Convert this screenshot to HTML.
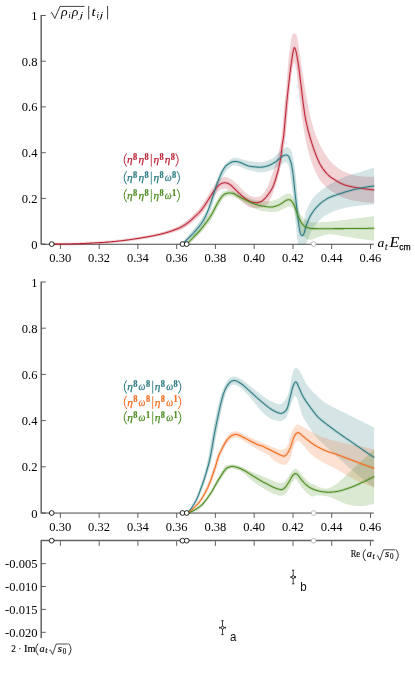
<!DOCTYPE html>
<html><head><meta charset="utf-8"><title>plot</title>
<style>
html,body{margin:0;padding:0;background:#fff;}
body{width:415px;height:673px;overflow:hidden;font-family:"Liberation Serif",serif;}
svg{display:block;will-change:transform;}
text{font-family:"Liberation Serif",serif;}
.tk{font-size:12.5px;fill:#000;}
.sans{font-family:"Liberation Sans",sans-serif;}
.it{font-style:italic}
.b{font-weight:bold}
</style></head><body>
<svg width="415" height="673" viewBox="0 0 415 673">
<rect width="415" height="673" fill="#fff"/>
<clipPath id="c1"><rect x="41" y="0" width="333.4" height="244.6"/></clipPath>
<g clip-path="url(#c1)">
<path d="M51.7 243.5 L52.2 243.5 L52.7 243.5 L53.2 243.5 L53.7 243.5 L54.2 243.5 L54.7 243.5 L55.2 243.5 L55.7 243.5 L56.2 243.5 L56.7 243.5 L57.2 243.5 L57.7 243.5 L58.2 243.5 L58.7 243.5 L59.2 243.4 L59.7 243.4 L60.2 243.4 L60.7 243.4 L61.2 243.4 L61.7 243.4 L62.2 243.4 L62.7 243.4 L63.2 243.4 L63.7 243.4 L64.2 243.4 L64.7 243.3 L65.2 243.3 L65.7 243.3 L66.2 243.3 L66.7 243.3 L67.2 243.3 L67.7 243.3 L68.2 243.3 L68.7 243.2 L69.2 243.2 L69.7 243.2 L70.2 243.2 L70.7 243.2 L71.2 243.2 L71.7 243.2 L72.2 243.1 L72.7 243.1 L73.2 243.1 L73.7 243.1 L74.2 243.1 L74.7 243.0 L75.2 243.0 L75.7 243.0 L76.2 243.0 L76.7 243.0 L77.2 243.0 L77.7 242.9 L78.2 242.9 L78.7 242.9 L79.2 242.9 L79.7 242.9 L80.2 242.8 L80.7 242.8 L81.2 242.8 L81.7 242.8 L82.2 242.8 L82.7 242.7 L83.2 242.7 L83.7 242.7 L84.2 242.7 L84.7 242.6 L85.2 242.6 L85.7 242.6 L86.2 242.6 L86.7 242.6 L87.2 242.5 L87.7 242.5 L88.2 242.5 L88.7 242.5 L89.2 242.4 L89.7 242.4 L90.2 242.4 L90.7 242.4 L91.2 242.3 L91.7 242.3 L92.2 242.3 L92.7 242.3 L93.2 242.2 L93.7 242.2 L94.2 242.2 L94.7 242.2 L95.2 242.1 L95.7 242.1 L96.2 242.1 L96.7 242.1 L97.2 242.0 L97.7 242.0 L98.2 242.0 L98.7 242.0 L99.2 241.9 L99.7 241.9 L100.2 241.9 L100.7 241.9 L101.2 241.8 L101.7 241.8 L102.2 241.8 L102.7 241.7 L103.2 241.7 L103.7 241.7 L104.2 241.6 L104.7 241.6 L105.2 241.6 L105.7 241.5 L106.2 241.5 L106.7 241.4 L107.2 241.4 L107.7 241.3 L108.2 241.3 L108.7 241.3 L109.2 241.2 L109.7 241.2 L110.2 241.1 L110.7 241.1 L111.2 241.0 L111.7 241.0 L112.2 240.9 L112.7 240.8 L113.2 240.8 L113.7 240.7 L114.2 240.7 L114.7 240.6 L115.2 240.6 L115.7 240.5 L116.2 240.5 L116.7 240.4 L117.2 240.3 L117.7 240.3 L118.2 240.2 L118.7 240.2 L119.2 240.1 L119.7 240.0 L120.2 240.0 L120.7 239.9 L121.2 239.9 L121.7 239.8 L122.2 239.7 L122.7 239.7 L123.2 239.6 L123.7 239.5 L124.2 239.5 L124.7 239.4 L125.2 239.4 L125.7 239.3 L126.2 239.2 L126.7 239.2 L127.2 239.1 L127.7 239.0 L128.2 238.9 L128.7 238.9 L129.2 238.8 L129.7 238.7 L130.2 238.6 L130.7 238.6 L131.2 238.5 L131.7 238.4 L132.2 238.3 L132.7 238.2 L133.2 238.2 L133.7 238.1 L134.2 238.0 L134.7 237.9 L135.2 237.8 L135.7 237.7 L136.2 237.7 L136.7 237.6 L137.2 237.5 L137.7 237.4 L138.2 237.3 L138.7 237.2 L139.2 237.1 L139.7 237.1 L140.2 237.0 L140.7 236.9 L141.2 236.8 L141.7 236.7 L142.2 236.6 L142.7 236.5 L143.2 236.4 L143.7 236.3 L144.2 236.3 L144.7 236.2 L145.2 236.1 L145.7 236.0 L146.2 235.9 L146.7 235.8 L147.2 235.7 L147.7 235.6 L148.2 235.5 L148.7 235.4 L149.2 235.3 L149.7 235.2 L150.2 235.1 L150.7 235.0 L151.2 234.9 L151.7 234.8 L152.2 234.7 L152.7 234.6 L153.2 234.5 L153.7 234.4 L154.2 234.3 L154.7 234.2 L155.2 234.0 L155.7 233.9 L156.2 233.8 L156.7 233.7 L157.2 233.6 L157.7 233.5 L158.2 233.3 L158.7 233.2 L159.2 233.1 L159.7 232.9 L160.2 232.8 L160.7 232.7 L161.2 232.5 L161.7 232.4 L162.2 232.3 L162.7 232.1 L163.2 232.0 L163.7 231.8 L164.2 231.7 L164.7 231.5 L165.2 231.4 L165.7 231.2 L166.2 231.1 L166.7 230.9 L167.2 230.8 L167.7 230.6 L168.2 230.4 L168.7 230.3 L169.2 230.1 L169.7 229.9 L170.2 229.7 L170.7 229.5 L171.2 229.3 L171.7 229.1 L172.2 228.9 L172.7 228.7 L173.2 228.5 L173.7 228.3 L174.2 228.0 L174.7 227.8 L175.2 227.6 L175.7 227.4 L176.2 227.1 L176.7 226.9 L177.2 226.7 L177.7 226.4 L178.2 226.2 L178.7 225.9 L179.2 225.7 L179.7 225.4 L180.2 225.1 L180.7 224.8 L181.2 224.6 L181.7 224.3 L182.2 224.0 L182.7 223.7 L183.2 223.4 L183.7 223.0 L184.2 222.7 L184.7 222.3 L185.2 222.0 L185.7 221.6 L186.2 221.2 L186.7 220.8 L187.2 220.4 L187.7 220.0 L188.2 219.6 L188.7 219.2 L189.2 218.7 L189.7 218.3 L190.2 217.9 L190.7 217.4 L191.2 216.9 L191.7 216.4 L192.2 215.9 L192.7 215.4 L193.2 214.8 L193.7 214.3 L194.2 213.8 L194.7 213.3 L195.2 212.8 L195.7 212.4 L196.2 211.9 L196.7 211.5 L197.2 211.0 L197.7 210.5 L198.2 210.0 L198.7 209.4 L199.2 208.7 L199.7 208.0 L200.2 207.3 L200.7 206.6 L201.2 205.9 L201.7 205.2 L202.2 204.5 L202.7 203.7 L203.2 203.0 L203.7 202.2 L204.2 201.5 L204.7 200.7 L205.2 199.9 L205.7 199.1 L206.2 198.4 L206.7 197.6 L207.2 196.8 L207.7 196.0 L208.2 195.1 L208.7 194.3 L209.2 193.4 L209.7 192.5 L210.2 191.7 L210.7 190.8 L211.2 190.0 L211.7 189.2 L212.2 188.4 L212.7 187.6 L213.2 186.9 L213.7 186.1 L214.2 185.4 L214.7 184.7 L215.2 184.0 L215.7 183.3 L216.2 182.6 L216.7 182.0 L217.2 181.4 L217.7 180.9 L218.2 180.4 L218.7 179.9 L219.2 179.5 L219.7 179.2 L220.2 178.8 L220.7 178.5 L221.2 178.2 L221.7 177.9 L222.2 177.6 L222.7 177.4 L223.2 177.2 L223.7 177.1 L224.2 177.0 L224.7 177.0 L225.2 177.0 L225.7 177.1 L226.2 177.2 L226.7 177.3 L227.2 177.5 L227.7 177.6 L228.2 177.8 L228.7 178.0 L229.2 178.3 L229.7 178.5 L230.2 178.8 L230.7 179.0 L231.2 179.3 L231.7 179.7 L232.2 180.0 L232.7 180.4 L233.2 180.8 L233.7 181.2 L234.2 181.6 L234.7 182.0 L235.2 182.4 L235.7 182.9 L236.2 183.3 L236.7 183.8 L237.2 184.2 L237.7 184.7 L238.2 185.1 L238.7 185.7 L239.2 186.2 L239.7 186.7 L240.2 187.3 L240.7 187.8 L241.2 188.4 L241.7 189.0 L242.2 189.5 L242.7 190.0 L243.2 190.6 L243.7 191.0 L244.2 191.5 L244.7 192.0 L245.2 192.4 L245.7 192.8 L246.2 193.1 L246.7 193.5 L247.2 193.9 L247.7 194.2 L248.2 194.6 L248.7 194.9 L249.2 195.2 L249.7 195.4 L250.2 195.7 L250.7 195.9 L251.2 196.1 L251.7 196.2 L252.2 196.4 L252.7 196.5 L253.2 196.7 L253.7 196.8 L254.2 196.9 L254.7 197.0 L255.2 197.1 L255.7 197.2 L256.2 197.2 L256.7 197.2 L257.2 197.1 L257.7 197.0 L258.2 196.9 L258.7 196.8 L259.2 196.6 L259.7 196.4 L260.2 196.2 L260.7 196.0 L261.2 195.6 L261.7 195.2 L262.2 194.7 L262.7 194.2 L263.2 193.6 L263.7 193.1 L264.2 192.4 L264.7 191.7 L265.2 190.8 L265.7 189.9 L266.2 189.0 L266.7 188.0 L267.2 187.0 L267.7 185.9 L268.2 184.8 L268.7 183.6 L269.2 182.4 L269.7 181.1 L270.2 179.7 L270.7 178.4 L271.2 177.0 L271.7 175.6 L272.2 174.1 L272.7 172.7 L273.2 171.2 L273.7 169.7 L274.2 168.1 L274.7 166.5 L275.2 164.8 L275.7 163.1 L276.2 161.3 L276.7 159.6 L277.2 157.7 L277.7 155.9 L278.2 153.9 L278.7 151.8 L279.2 149.6 L279.7 147.3 L280.2 145.0 L280.7 142.5 L281.2 139.5 L281.7 135.5 L282.2 130.5 L282.7 124.8 L283.2 118.8 L283.7 112.8 L284.2 107.1 L284.7 102.1 L285.2 97.8 L285.7 93.7 L286.2 89.2 L286.7 83.8 L287.2 76.1 L287.7 67.9 L288.2 61.7 L288.7 57.3 L289.2 53.5 L289.7 49.9 L290.2 46.3 L290.7 42.2 L291.2 38.7 L291.7 36.7 L292.2 35.2 L292.7 34.3 L293.2 33.9 L293.7 33.5 L294.2 33.2 L294.7 33.3 L295.2 33.5 L295.7 33.9 L296.2 34.4 L296.7 35.5 L297.2 37.0 L297.7 39.2 L298.2 42.6 L298.7 46.3 L299.2 49.7 L299.7 53.1 L300.2 56.6 L300.7 60.0 L301.2 63.4 L301.7 66.8 L302.2 70.1 L302.7 73.5 L303.2 76.8 L303.7 80.1 L304.2 83.3 L304.7 86.4 L305.2 89.5 L305.7 92.5 L306.2 95.3 L306.7 98.1 L307.2 100.8 L307.7 103.5 L308.2 106.2 L308.7 108.8 L309.2 111.3 L309.7 113.7 L310.2 116.0 L310.7 118.1 L311.2 120.1 L311.7 121.9 L312.2 123.8 L312.7 125.6 L313.2 127.3 L313.7 128.9 L314.2 130.5 L314.7 132.0 L315.2 133.5 L315.7 134.8 L316.2 136.1 L316.7 137.3 L317.2 138.5 L317.7 139.7 L318.2 140.8 L318.7 142.0 L319.2 143.1 L319.7 144.2 L320.2 145.2 L320.7 146.3 L321.2 147.3 L321.7 148.2 L322.2 149.2 L322.7 150.1 L323.2 150.9 L323.7 151.7 L324.2 152.5 L324.7 153.2 L325.2 154.0 L325.7 154.7 L326.2 155.4 L326.7 156.2 L327.2 156.9 L327.7 157.6 L328.2 158.3 L328.7 159.0 L329.2 159.6 L329.7 160.3 L330.2 160.9 L330.7 161.5 L331.2 162.0 L331.7 162.6 L332.2 163.1 L332.7 163.6 L333.2 164.1 L333.7 164.5 L334.2 164.9 L334.7 165.3 L335.2 165.7 L335.7 166.1 L336.2 166.5 L336.7 166.9 L337.2 167.3 L337.7 167.7 L338.2 168.1 L338.7 168.4 L339.2 168.8 L339.7 169.2 L340.2 169.5 L340.7 169.8 L341.2 170.1 L341.7 170.4 L342.2 170.7 L342.7 171.0 L343.2 171.3 L343.7 171.5 L344.2 171.7 L344.7 171.9 L345.2 172.1 L345.7 172.3 L346.2 172.5 L346.7 172.7 L347.2 172.9 L347.7 173.1 L348.2 173.2 L348.7 173.4 L349.2 173.6 L349.7 173.8 L350.2 173.9 L350.7 174.1 L351.2 174.3 L351.7 174.4 L352.2 174.6 L352.7 174.7 L353.2 174.9 L353.7 175.0 L354.2 175.2 L354.7 175.3 L355.2 175.4 L355.7 175.5 L356.2 175.6 L356.7 175.7 L357.2 175.8 L357.7 175.9 L358.2 176.0 L358.7 176.0 L359.2 176.1 L359.7 176.1 L360.2 176.2 L360.7 176.2 L361.2 176.3 L361.7 176.3 L362.2 176.4 L362.7 176.4 L363.2 176.5 L363.7 176.5 L364.2 176.5 L364.7 176.6 L365.2 176.6 L365.7 176.6 L366.2 176.7 L366.7 176.7 L367.2 176.7 L367.7 176.7 L368.2 176.8 L368.7 176.8 L369.2 176.8 L369.7 176.8 L370.2 176.8 L370.7 176.8 L371.2 176.8 L371.7 176.8 L372.2 176.8 L372.7 176.8 L373.2 176.8 L373.7 176.7 L374.2 176.7 L374.3 176.7 L374.3 203.0 L374.2 203.0 L373.7 203.0 L373.2 203.0 L372.7 203.0 L372.2 202.9 L371.7 202.9 L371.2 202.9 L370.7 202.8 L370.2 202.8 L369.7 202.8 L369.2 202.7 L368.7 202.7 L368.2 202.6 L367.7 202.6 L367.2 202.5 L366.7 202.5 L366.2 202.4 L365.7 202.4 L365.2 202.3 L364.7 202.3 L364.2 202.2 L363.7 202.1 L363.2 202.1 L362.7 202.0 L362.2 202.0 L361.7 201.9 L361.2 201.8 L360.7 201.8 L360.2 201.7 L359.7 201.6 L359.2 201.6 L358.7 201.5 L358.2 201.4 L357.7 201.4 L357.2 201.3 L356.7 201.2 L356.2 201.1 L355.7 201.0 L355.2 200.9 L354.7 200.8 L354.2 200.7 L353.7 200.6 L353.2 200.5 L352.7 200.4 L352.2 200.3 L351.7 200.2 L351.2 200.0 L350.7 199.9 L350.2 199.8 L349.7 199.6 L349.2 199.5 L348.7 199.4 L348.2 199.2 L347.7 199.1 L347.2 198.9 L346.7 198.8 L346.2 198.6 L345.7 198.5 L345.2 198.3 L344.7 198.2 L344.2 198.0 L343.7 197.8 L343.2 197.6 L342.7 197.4 L342.2 197.2 L341.7 197.0 L341.2 196.7 L340.7 196.5 L340.2 196.2 L339.7 196.0 L339.2 195.7 L338.7 195.4 L338.2 195.2 L337.7 194.9 L337.2 194.6 L336.7 194.3 L336.2 194.0 L335.7 193.7 L335.2 193.4 L334.7 193.1 L334.2 192.8 L333.7 192.6 L333.2 192.3 L332.7 192.0 L332.2 191.6 L331.7 191.3 L331.2 191.0 L330.7 190.6 L330.2 190.2 L329.7 189.9 L329.2 189.5 L328.7 189.1 L328.2 188.7 L327.7 188.3 L327.2 187.8 L326.7 187.4 L326.2 186.9 L325.7 186.5 L325.2 186.0 L324.7 185.6 L324.2 185.1 L323.7 184.6 L323.2 184.1 L322.7 183.6 L322.2 183.1 L321.7 182.6 L321.2 182.0 L320.7 181.3 L320.2 180.6 L319.7 179.9 L319.2 179.1 L318.7 178.2 L318.2 177.3 L317.7 176.4 L317.2 175.4 L316.7 174.4 L316.2 173.4 L315.7 172.3 L315.2 171.3 L314.7 170.2 L314.2 169.2 L313.7 168.1 L313.2 166.8 L312.7 165.5 L312.2 164.1 L311.7 162.7 L311.2 161.1 L310.7 159.5 L310.2 157.9 L309.7 156.2 L309.2 154.4 L308.7 152.6 L308.2 150.8 L307.7 148.9 L307.2 147.0 L306.7 145.0 L306.2 142.7 L305.7 140.3 L305.2 137.8 L304.7 135.1 L304.2 132.3 L303.7 129.3 L303.2 126.3 L302.7 123.1 L302.2 119.7 L301.7 115.9 L301.2 111.8 L300.7 107.6 L300.2 103.3 L299.7 99.2 L299.2 95.1 L298.7 90.9 L298.2 86.7 L297.7 82.4 L297.2 77.6 L296.7 73.1 L296.2 69.2 L295.7 66.4 L295.2 64.3 L294.7 62.9 L294.2 62.7 L293.7 63.5 L293.2 65.1 L292.7 67.2 L292.2 69.4 L291.7 72.1 L291.2 75.4 L290.7 79.1 L290.2 83.3 L289.7 88.0 L289.2 93.8 L288.7 100.2 L288.2 106.1 L287.7 112.0 L287.2 118.0 L286.7 123.9 L286.2 129.5 L285.7 134.5 L285.2 138.8 L284.7 142.0 L284.2 145.0 L283.7 148.4 L283.2 151.9 L282.7 155.2 L282.2 158.1 L281.7 160.9 L281.2 163.6 L280.7 166.1 L280.2 168.5 L279.7 170.7 L279.2 172.7 L278.7 174.6 L278.2 176.4 L277.7 178.2 L277.2 180.0 L276.7 181.6 L276.2 183.2 L275.7 184.8 L275.2 186.3 L274.7 187.8 L274.2 189.3 L273.7 190.8 L273.2 192.2 L272.7 193.7 L272.2 195.0 L271.7 196.3 L271.2 197.5 L270.7 198.6 L270.2 199.6 L269.7 200.5 L269.2 201.4 L268.7 202.3 L268.2 203.1 L267.7 203.8 L267.2 204.4 L266.7 204.9 L266.2 205.2 L265.7 205.5 L265.2 205.9 L264.7 206.2 L264.2 206.4 L263.7 206.7 L263.2 206.9 L262.7 207.1 L262.2 207.3 L261.7 207.4 L261.2 207.5 L260.7 207.6 L260.2 207.7 L259.7 207.8 L259.2 207.9 L258.7 208.0 L258.2 208.1 L257.7 208.2 L257.2 208.2 L256.7 208.3 L256.2 208.3 L255.7 208.3 L255.2 208.3 L254.7 208.2 L254.2 208.2 L253.7 208.1 L253.2 208.0 L252.7 208.0 L252.2 207.9 L251.7 207.8 L251.2 207.6 L250.7 207.5 L250.2 207.4 L249.7 207.2 L249.2 207.0 L248.7 206.7 L248.2 206.5 L247.7 206.2 L247.2 205.9 L246.7 205.6 L246.2 205.2 L245.7 204.9 L245.2 204.5 L244.7 204.2 L244.2 203.8 L243.7 203.4 L243.2 202.9 L242.7 202.4 L242.2 201.9 L241.7 201.4 L241.2 200.9 L240.7 200.4 L240.2 199.8 L239.7 199.3 L239.2 198.8 L238.7 198.3 L238.2 197.8 L237.7 197.3 L237.2 196.8 L236.7 196.3 L236.2 195.9 L235.7 195.4 L235.2 194.9 L234.7 194.5 L234.2 194.0 L233.7 193.5 L233.2 193.1 L232.7 192.7 L232.2 192.2 L231.7 191.8 L231.2 191.5 L230.7 191.1 L230.2 190.8 L229.7 190.5 L229.2 190.2 L228.7 189.9 L228.2 189.7 L227.7 189.5 L227.2 189.2 L226.7 189.1 L226.2 188.9 L225.7 188.8 L225.2 188.7 L224.7 188.6 L224.2 188.6 L223.7 188.6 L223.2 188.7 L222.7 188.9 L222.2 189.1 L221.7 189.3 L221.2 189.5 L220.7 189.8 L220.2 190.1 L219.7 190.4 L219.2 190.7 L218.7 191.1 L218.2 191.5 L217.7 191.9 L217.2 192.4 L216.7 193.0 L216.2 193.6 L215.7 194.2 L215.2 194.8 L214.7 195.5 L214.2 196.1 L213.7 196.8 L213.2 197.5 L212.7 198.1 L212.2 198.8 L211.7 199.6 L211.2 200.3 L210.7 201.1 L210.2 201.8 L209.7 202.6 L209.2 203.4 L208.7 204.2 L208.2 204.9 L207.7 205.7 L207.2 206.4 L206.7 207.1 L206.2 207.8 L205.7 208.5 L205.2 209.3 L204.7 210.0 L204.2 210.7 L203.7 211.3 L203.2 212.0 L202.7 212.6 L202.2 213.3 L201.7 213.8 L201.2 214.4 L200.7 214.9 L200.2 215.4 L199.7 215.8 L199.2 216.2 L198.7 216.6 L198.2 217.0 L197.7 217.5 L197.2 217.9 L196.7 218.3 L196.2 218.8 L195.7 219.2 L195.2 219.6 L194.7 220.1 L194.2 220.5 L193.7 220.9 L193.2 221.4 L192.7 221.8 L192.2 222.3 L191.7 222.7 L191.2 223.1 L190.7 223.5 L190.2 223.9 L189.7 224.3 L189.2 224.7 L188.7 225.0 L188.2 225.4 L187.7 225.7 L187.2 226.1 L186.7 226.4 L186.2 226.7 L185.7 227.0 L185.2 227.4 L184.7 227.7 L184.2 227.9 L183.7 228.2 L183.2 228.5 L182.7 228.7 L182.2 228.9 L181.7 229.2 L181.2 229.4 L180.7 229.6 L180.2 229.8 L179.7 230.0 L179.2 230.2 L178.7 230.4 L178.2 230.6 L177.7 230.8 L177.2 230.9 L176.7 231.1 L176.2 231.3 L175.7 231.4 L175.2 231.6 L174.7 231.8 L174.2 231.9 L173.7 232.1 L173.2 232.2 L172.7 232.4 L172.2 232.5 L171.7 232.7 L171.2 232.8 L170.7 233.0 L170.2 233.1 L169.7 233.3 L169.2 233.4 L168.7 233.5 L168.2 233.6 L167.7 233.8 L167.2 233.9 L166.7 234.0 L166.2 234.2 L165.7 234.3 L165.2 234.4 L164.7 234.5 L164.2 234.7 L163.7 234.8 L163.2 234.9 L162.7 235.0 L162.2 235.1 L161.7 235.3 L161.2 235.4 L160.7 235.5 L160.2 235.6 L159.7 235.7 L159.2 235.8 L158.7 235.9 L158.2 236.0 L157.7 236.2 L157.2 236.3 L156.7 236.4 L156.2 236.5 L155.7 236.6 L155.2 236.7 L154.7 236.8 L154.2 236.9 L153.7 236.9 L153.2 237.0 L152.7 237.1 L152.2 237.2 L151.7 237.3 L151.2 237.4 L150.7 237.5 L150.2 237.6 L149.7 237.7 L149.2 237.8 L148.7 237.8 L148.2 237.9 L147.7 238.0 L147.2 238.1 L146.7 238.2 L146.2 238.3 L145.7 238.3 L145.2 238.4 L144.7 238.5 L144.2 238.6 L143.7 238.6 L143.2 238.7 L142.7 238.8 L142.2 238.9 L141.7 239.0 L141.2 239.0 L140.7 239.1 L140.2 239.2 L139.7 239.2 L139.2 239.3 L138.7 239.4 L138.2 239.5 L137.7 239.5 L137.2 239.6 L136.7 239.7 L136.2 239.8 L135.7 239.8 L135.2 239.9 L134.7 240.0 L134.2 240.0 L133.7 240.1 L133.2 240.2 L132.7 240.2 L132.2 240.3 L131.7 240.4 L131.2 240.5 L130.7 240.5 L130.2 240.6 L129.7 240.6 L129.2 240.7 L128.7 240.8 L128.2 240.8 L127.7 240.9 L127.2 241.0 L126.7 241.0 L126.2 241.1 L125.7 241.1 L125.2 241.2 L124.7 241.2 L124.2 241.3 L123.7 241.3 L123.2 241.4 L122.7 241.4 L122.2 241.5 L121.7 241.5 L121.2 241.6 L120.7 241.6 L120.2 241.7 L119.7 241.7 L119.2 241.8 L118.7 241.8 L118.2 241.9 L117.7 241.9 L117.2 242.0 L116.7 242.0 L116.2 242.1 L115.7 242.1 L115.2 242.2 L114.7 242.2 L114.2 242.3 L113.7 242.3 L113.2 242.4 L112.7 242.4 L112.2 242.5 L111.7 242.5 L111.2 242.5 L110.7 242.6 L110.2 242.6 L109.7 242.7 L109.2 242.7 L108.7 242.8 L108.2 242.8 L107.7 242.8 L107.2 242.9 L106.7 242.9 L106.2 242.9 L105.7 243.0 L105.2 243.0 L104.7 243.0 L104.2 243.1 L103.7 243.1 L103.2 243.1 L102.7 243.2 L102.2 243.2 L101.7 243.2 L101.2 243.2 L100.7 243.3 L100.2 243.3 L99.7 243.3 L99.2 243.3 L98.7 243.4 L98.2 243.4 L97.7 243.4 L97.2 243.4 L96.7 243.4 L96.2 243.5 L95.7 243.5 L95.2 243.5 L94.7 243.5 L94.2 243.5 L93.7 243.6 L93.2 243.6 L92.7 243.6 L92.2 243.6 L91.7 243.7 L91.2 243.7 L90.7 243.7 L90.2 243.7 L89.7 243.7 L89.2 243.8 L88.7 243.8 L88.2 243.8 L87.7 243.8 L87.2 243.8 L86.7 243.9 L86.2 243.9 L85.7 243.9 L85.2 243.9 L84.7 243.9 L84.2 244.0 L83.7 244.0 L83.2 244.0 L82.7 244.0 L82.2 244.0 L81.7 244.0 L81.2 244.1 L80.7 244.1 L80.2 244.1 L79.7 244.1 L79.2 244.1 L78.7 244.2 L78.2 244.2 L77.7 244.2 L77.2 244.2 L76.7 244.2 L76.2 244.2 L75.7 244.3 L75.2 244.3 L74.7 244.3 L74.2 244.3 L73.7 244.3 L73.2 244.3 L72.7 244.3 L72.2 244.4 L71.7 244.4 L71.2 244.4 L70.7 244.4 L70.2 244.4 L69.7 244.4 L69.2 244.4 L68.7 244.5 L68.2 244.5 L67.7 244.5 L67.2 244.5 L66.7 244.5 L66.2 244.5 L65.7 244.5 L65.2 244.5 L64.7 244.6 L64.2 244.6 L63.7 244.6 L63.2 244.6 L62.7 244.6 L62.2 244.6 L61.7 244.6 L61.2 244.6 L60.7 244.6 L60.2 244.6 L59.7 244.6 L59.2 244.6 L58.7 244.7 L58.2 244.7 L57.7 244.7 L57.2 244.7 L56.7 244.7 L56.2 244.7 L55.7 244.7 L55.2 244.7 L54.7 244.7 L54.2 244.7 L53.7 244.7 L53.2 244.7 L52.7 244.7 L52.2 244.7 L51.7 244.7Z" fill="#bd2638" fill-opacity="0.2" stroke="none"/>
<path d="M182.4 243.4 L182.9 242.7 L183.4 242.0 L183.9 241.3 L184.4 240.7 L184.9 240.0 L185.4 239.3 L185.9 238.6 L186.4 238.0 L186.9 237.3 L187.4 236.7 L187.9 236.0 L188.4 235.4 L188.9 234.7 L189.4 234.1 L189.9 233.5 L190.4 232.9 L190.9 232.3 L191.4 231.7 L191.9 231.1 L192.4 230.5 L192.9 230.0 L193.4 229.4 L193.9 228.8 L194.4 228.2 L194.9 227.6 L195.4 227.0 L195.9 226.4 L196.4 225.8 L196.9 225.2 L197.4 224.5 L197.9 223.8 L198.4 223.2 L198.9 222.5 L199.4 221.8 L199.9 221.1 L200.4 220.4 L200.9 219.6 L201.4 218.9 L201.9 218.1 L202.4 217.3 L202.9 216.6 L203.4 215.8 L203.9 214.9 L204.4 214.1 L204.9 213.3 L205.4 212.4 L205.9 211.5 L206.4 210.5 L206.9 209.5 L207.4 208.4 L207.9 207.4 L208.4 206.2 L208.9 205.1 L209.4 203.9 L209.9 202.7 L210.4 201.4 L210.9 200.1 L211.4 198.7 L211.9 197.1 L212.4 195.5 L212.9 193.7 L213.4 191.9 L213.9 190.2 L214.4 188.4 L214.9 186.8 L215.4 185.2 L215.9 183.7 L216.4 182.1 L216.9 180.6 L217.4 179.1 L217.9 177.6 L218.4 176.2 L218.9 174.9 L219.4 173.8 L219.9 172.8 L220.4 171.8 L220.9 170.9 L221.4 170.0 L221.9 169.2 L222.4 168.4 L222.9 167.6 L223.4 166.9 L223.9 166.3 L224.4 165.6 L224.9 164.9 L225.4 164.3 L225.9 163.6 L226.4 162.9 L226.9 162.3 L227.4 161.7 L227.9 161.2 L228.4 160.7 L228.9 160.3 L229.4 159.9 L229.9 159.6 L230.4 159.3 L230.9 159.0 L231.4 158.7 L231.9 158.4 L232.4 158.2 L232.9 158.0 L233.4 157.8 L233.9 157.7 L234.4 157.7 L234.9 157.7 L235.4 157.8 L235.9 157.8 L236.4 157.9 L236.9 158.0 L237.4 158.1 L237.9 158.2 L238.4 158.3 L238.9 158.5 L239.4 158.6 L239.9 158.7 L240.4 158.8 L240.9 159.0 L241.4 159.1 L241.9 159.2 L242.4 159.4 L242.9 159.5 L243.4 159.7 L243.9 159.8 L244.4 159.9 L244.9 160.0 L245.4 160.2 L245.9 160.3 L246.4 160.4 L246.9 160.5 L247.4 160.6 L247.9 160.7 L248.4 160.8 L248.9 160.9 L249.4 161.0 L249.9 161.1 L250.4 161.2 L250.9 161.2 L251.4 161.3 L251.9 161.4 L252.4 161.5 L252.9 161.6 L253.4 161.6 L253.9 161.7 L254.4 161.8 L254.9 161.8 L255.4 161.9 L255.9 162.0 L256.4 162.0 L256.9 162.1 L257.4 162.1 L257.9 162.2 L258.4 162.2 L258.9 162.2 L259.4 162.3 L259.9 162.3 L260.4 162.3 L260.9 162.3 L261.4 162.3 L261.9 162.2 L262.4 162.2 L262.9 162.1 L263.4 162.0 L263.9 161.9 L264.4 161.8 L264.9 161.6 L265.4 161.5 L265.9 161.3 L266.4 161.1 L266.9 160.9 L267.4 160.7 L267.9 160.5 L268.4 160.3 L268.9 160.1 L269.4 159.9 L269.9 159.6 L270.4 159.4 L270.9 159.1 L271.4 158.9 L271.9 158.6 L272.4 158.3 L272.9 158.0 L273.4 157.7 L273.9 157.3 L274.4 156.8 L274.9 156.4 L275.4 155.9 L275.9 155.5 L276.4 155.0 L276.9 154.5 L277.4 154.0 L277.9 153.5 L278.4 153.0 L278.9 152.5 L279.4 152.0 L279.9 151.6 L280.4 151.2 L280.9 150.7 L281.4 150.3 L281.9 150.0 L282.4 149.6 L282.9 149.2 L283.4 148.9 L283.9 148.5 L284.4 148.2 L284.9 147.9 L285.4 147.6 L285.9 147.3 L286.4 147.0 L286.9 146.9 L287.4 146.9 L287.9 147.1 L288.4 147.4 L288.9 147.8 L289.4 148.2 L289.9 148.8 L290.4 149.3 L290.9 149.9 L291.4 150.7 L291.9 152.2 L292.4 154.2 L292.9 156.6 L293.4 159.0 L293.9 161.6 L294.4 164.7 L294.9 168.3 L295.4 172.4 L295.9 176.9 L296.4 182.5 L296.9 188.5 L297.4 194.0 L297.9 198.8 L298.4 203.4 L298.9 207.7 L299.4 211.4 L299.9 214.5 L300.4 217.0 L300.9 219.4 L301.4 221.6 L301.9 223.3 L302.4 224.2 L302.9 224.2 L303.4 223.0 L303.9 221.1 L304.4 218.8 L304.9 216.4 L305.4 214.1 L305.9 212.3 L306.4 210.9 L306.9 209.6 L307.4 208.4 L307.9 207.2 L308.4 206.1 L308.9 205.1 L309.4 204.1 L309.9 203.2 L310.4 202.3 L310.9 201.5 L311.4 200.6 L311.9 199.8 L312.4 199.0 L312.9 198.2 L313.4 197.5 L313.9 196.9 L314.4 196.3 L314.9 195.8 L315.4 195.3 L315.9 194.8 L316.4 194.3 L316.9 193.9 L317.4 193.4 L317.9 193.0 L318.4 192.6 L318.9 192.2 L319.4 191.8 L319.9 191.4 L320.4 191.0 L320.9 190.6 L321.4 190.2 L321.9 189.9 L322.4 189.5 L322.9 189.1 L323.4 188.8 L323.9 188.4 L324.4 188.1 L324.9 187.7 L325.4 187.3 L325.9 187.0 L326.4 186.7 L326.9 186.3 L327.4 186.0 L327.9 185.7 L328.4 185.3 L328.9 185.0 L329.4 184.7 L329.9 184.4 L330.4 184.1 L330.9 183.8 L331.4 183.5 L331.9 183.2 L332.4 182.9 L332.9 182.6 L333.4 182.4 L333.9 182.1 L334.4 181.8 L334.9 181.5 L335.4 181.2 L335.9 181.0 L336.4 180.7 L336.9 180.5 L337.4 180.2 L337.9 180.0 L338.4 179.7 L338.9 179.5 L339.4 179.3 L339.9 179.0 L340.4 178.8 L340.9 178.6 L341.4 178.4 L341.9 178.1 L342.4 177.9 L342.9 177.7 L343.4 177.5 L343.9 177.3 L344.4 177.1 L344.9 176.9 L345.4 176.7 L345.9 176.5 L346.4 176.3 L346.9 176.1 L347.4 175.9 L347.9 175.7 L348.4 175.6 L348.9 175.4 L349.4 175.2 L349.9 175.0 L350.4 174.9 L350.9 174.7 L351.4 174.5 L351.9 174.4 L352.4 174.2 L352.9 174.1 L353.4 173.9 L353.9 173.8 L354.4 173.6 L354.9 173.5 L355.4 173.3 L355.9 173.2 L356.4 173.1 L356.9 172.9 L357.4 172.8 L357.9 172.6 L358.4 172.5 L358.9 172.3 L359.4 172.2 L359.9 172.0 L360.4 171.9 L360.9 171.7 L361.4 171.6 L361.9 171.4 L362.4 171.3 L362.9 171.1 L363.4 171.0 L363.9 170.8 L364.4 170.7 L364.9 170.5 L365.4 170.4 L365.9 170.2 L366.4 170.1 L366.9 169.9 L367.4 169.8 L367.9 169.6 L368.4 169.5 L368.9 169.3 L369.4 169.2 L369.9 169.0 L370.4 168.9 L370.9 168.7 L371.4 168.6 L371.9 168.4 L372.4 168.3 L372.9 168.1 L373.4 168.0 L373.9 167.8 L374.3 167.7 L374.3 204.6 L373.9 204.6 L373.4 204.6 L372.9 204.6 L372.4 204.6 L371.9 204.7 L371.4 204.7 L370.9 204.7 L370.4 204.7 L369.9 204.8 L369.4 204.8 L368.9 204.8 L368.4 204.8 L367.9 204.9 L367.4 204.9 L366.9 205.0 L366.4 205.0 L365.9 205.0 L365.4 205.1 L364.9 205.1 L364.4 205.2 L363.9 205.2 L363.4 205.3 L362.9 205.3 L362.4 205.4 L361.9 205.4 L361.4 205.5 L360.9 205.5 L360.4 205.6 L359.9 205.6 L359.4 205.7 L358.9 205.7 L358.4 205.8 L357.9 205.9 L357.4 205.9 L356.9 206.0 L356.4 206.0 L355.9 206.1 L355.4 206.1 L354.9 206.2 L354.4 206.3 L353.9 206.3 L353.4 206.4 L352.9 206.4 L352.4 206.5 L351.9 206.6 L351.4 206.6 L350.9 206.7 L350.4 206.8 L349.9 206.9 L349.4 207.0 L348.9 207.0 L348.4 207.1 L347.9 207.2 L347.4 207.4 L346.9 207.5 L346.4 207.6 L345.9 207.7 L345.4 207.8 L344.9 207.9 L344.4 208.1 L343.9 208.2 L343.4 208.3 L342.9 208.4 L342.4 208.6 L341.9 208.7 L341.4 208.8 L340.9 209.0 L340.4 209.1 L339.9 209.2 L339.4 209.4 L338.9 209.5 L338.4 209.6 L337.9 209.8 L337.4 209.9 L336.9 210.1 L336.4 210.3 L335.9 210.5 L335.4 210.6 L334.9 210.8 L334.4 211.0 L333.9 211.2 L333.4 211.5 L332.9 211.7 L332.4 211.9 L331.9 212.1 L331.4 212.4 L330.9 212.6 L330.4 212.9 L329.9 213.1 L329.4 213.4 L328.9 213.6 L328.4 213.9 L327.9 214.1 L327.4 214.4 L326.9 214.7 L326.4 215.0 L325.9 215.2 L325.4 215.5 L324.9 215.8 L324.4 216.1 L323.9 216.5 L323.4 216.8 L322.9 217.2 L322.4 217.6 L321.9 218.1 L321.4 218.5 L320.9 219.0 L320.4 219.5 L319.9 220.0 L319.4 220.5 L318.9 221.1 L318.4 221.6 L317.9 222.1 L317.4 222.7 L316.9 223.3 L316.4 223.8 L315.9 224.4 L315.4 225.0 L314.9 225.6 L314.4 226.3 L313.9 227.0 L313.4 227.8 L312.9 228.6 L312.4 229.5 L311.9 230.3 L311.4 231.3 L310.9 232.2 L310.4 233.2 L309.9 234.2 L309.4 235.4 L308.9 236.8 L308.4 238.2 L307.9 239.5 L307.4 240.7 L306.9 241.8 L306.4 242.7 L305.9 243.6 L305.4 244.4 L304.9 245.0 L304.4 245.5 L303.9 246.0 L303.4 246.3 L302.9 246.5 L302.4 246.7 L301.9 246.7 L301.4 246.7 L300.9 246.5 L300.4 246.3 L299.9 246.0 L299.4 245.6 L298.9 245.1 L298.4 244.6 L297.9 243.0 L297.4 239.5 L296.9 235.6 L296.4 231.1 L295.9 226.1 L295.4 221.0 L294.9 215.4 L294.4 209.6 L293.9 204.0 L293.4 199.1 L292.9 194.6 L292.4 190.3 L291.9 186.4 L291.4 182.7 L290.9 179.3 L290.4 175.9 L289.9 172.6 L289.4 169.6 L288.9 167.2 L288.4 165.8 L287.9 164.7 L287.4 163.7 L286.9 162.9 L286.4 162.3 L285.9 162.0 L285.4 162.0 L284.9 162.3 L284.4 162.6 L283.9 162.8 L283.4 163.2 L282.9 163.5 L282.4 163.8 L281.9 164.1 L281.4 164.4 L280.9 164.7 L280.4 165.0 L279.9 165.3 L279.4 165.6 L278.9 165.9 L278.4 166.2 L277.9 166.6 L277.4 166.9 L276.9 167.2 L276.4 167.5 L275.9 167.8 L275.4 168.1 L274.9 168.4 L274.4 168.7 L273.9 169.0 L273.4 169.2 L272.9 169.5 L272.4 169.7 L271.9 169.9 L271.4 170.1 L270.9 170.2 L270.4 170.4 L269.9 170.6 L269.4 170.7 L268.9 170.9 L268.4 171.1 L267.9 171.2 L267.4 171.3 L266.9 171.5 L266.4 171.6 L265.9 171.7 L265.4 171.8 L264.9 171.9 L264.4 172.0 L263.9 172.1 L263.4 172.2 L262.9 172.2 L262.4 172.3 L261.9 172.3 L261.4 172.3 L260.9 172.3 L260.4 172.3 L259.9 172.3 L259.4 172.3 L258.9 172.2 L258.4 172.2 L257.9 172.1 L257.4 172.0 L256.9 171.9 L256.4 171.9 L255.9 171.8 L255.4 171.7 L254.9 171.6 L254.4 171.5 L253.9 171.4 L253.4 171.2 L252.9 171.1 L252.4 171.0 L251.9 170.9 L251.4 170.8 L250.9 170.6 L250.4 170.5 L249.9 170.4 L249.4 170.3 L248.9 170.1 L248.4 170.0 L247.9 169.9 L247.4 169.7 L246.9 169.6 L246.4 169.4 L245.9 169.2 L245.4 169.0 L244.9 168.8 L244.4 168.6 L243.9 168.4 L243.4 168.2 L242.9 168.0 L242.4 167.8 L241.9 167.6 L241.4 167.3 L240.9 167.1 L240.4 166.9 L239.9 166.7 L239.4 166.5 L238.9 166.3 L238.4 166.1 L237.9 166.0 L237.4 165.8 L236.9 165.7 L236.4 165.5 L235.9 165.4 L235.4 165.3 L234.9 165.2 L234.4 165.2 L233.9 165.2 L233.4 165.4 L232.9 165.6 L232.4 165.8 L231.9 166.1 L231.4 166.5 L230.9 166.8 L230.4 167.2 L229.9 167.6 L229.4 167.9 L228.9 168.3 L228.4 168.8 L227.9 169.3 L227.4 169.8 L226.9 170.5 L226.4 171.1 L225.9 171.8 L225.4 172.6 L224.9 173.3 L224.4 174.0 L223.9 174.8 L223.4 175.6 L222.9 176.4 L222.4 177.3 L221.9 178.3 L221.4 179.3 L220.9 180.4 L220.4 181.5 L219.9 182.7 L219.4 183.9 L218.9 185.1 L218.4 186.5 L217.9 188.0 L217.4 189.5 L216.9 191.1 L216.4 192.6 L215.9 194.2 L215.4 195.7 L214.9 197.3 L214.4 198.9 L213.9 200.6 L213.4 202.2 L212.9 203.9 L212.4 205.5 L211.9 207.1 L211.4 208.6 L210.9 209.9 L210.4 211.1 L209.9 212.3 L209.4 213.4 L208.9 214.5 L208.4 215.6 L207.9 216.6 L207.4 217.6 L206.9 218.6 L206.4 219.5 L205.9 220.4 L205.4 221.3 L204.9 222.1 L204.4 222.9 L203.9 223.7 L203.4 224.4 L202.9 225.2 L202.4 225.9 L201.9 226.7 L201.4 227.4 L200.9 228.1 L200.4 228.8 L199.9 229.5 L199.4 230.1 L198.9 230.8 L198.4 231.4 L197.9 232.0 L197.4 232.6 L196.9 233.1 L196.4 233.7 L195.9 234.2 L195.4 234.7 L194.9 235.2 L194.4 235.7 L193.9 236.3 L193.4 236.7 L192.9 237.2 L192.4 237.7 L191.9 238.2 L191.4 238.6 L190.9 239.0 L190.4 239.5 L189.9 239.9 L189.4 240.3 L188.9 240.6 L188.4 241.0 L187.9 241.4 L187.4 241.7 L186.9 242.1 L186.4 242.5 L185.9 242.8 L185.4 243.1 L184.9 243.5 L184.4 243.8 L183.9 244.1 L183.4 244.3 L182.9 244.6 L182.4 244.8Z" fill="#2b7b82" fill-opacity="0.2" stroke="none"/>
<path d="M186.8 243.4 L187.3 242.7 L187.8 242.0 L188.3 241.4 L188.8 240.7 L189.3 240.0 L189.8 239.4 L190.3 238.7 L190.8 238.1 L191.3 237.4 L191.8 236.8 L192.3 236.2 L192.8 235.6 L193.3 235.0 L193.8 234.4 L194.3 233.8 L194.8 233.2 L195.3 232.7 L195.8 232.2 L196.3 231.6 L196.8 231.1 L197.3 230.6 L197.8 230.0 L198.3 229.4 L198.8 228.8 L199.3 228.2 L199.8 227.6 L200.3 226.9 L200.8 226.3 L201.3 225.6 L201.8 224.9 L202.3 224.2 L202.8 223.5 L203.3 222.8 L203.8 222.1 L204.3 221.4 L204.8 220.7 L205.3 220.0 L205.8 219.3 L206.3 218.6 L206.8 217.8 L207.3 217.1 L207.8 216.3 L208.3 215.5 L208.8 214.7 L209.3 213.9 L209.8 213.0 L210.3 212.2 L210.8 211.3 L211.3 210.4 L211.8 209.5 L212.3 208.6 L212.8 207.7 L213.3 206.8 L213.8 206.0 L214.3 205.1 L214.8 204.2 L215.3 203.2 L215.8 202.3 L216.3 201.4 L216.8 200.4 L217.3 199.6 L217.8 198.7 L218.3 197.9 L218.8 197.1 L219.3 196.4 L219.8 195.7 L220.3 195.0 L220.8 194.4 L221.3 193.8 L221.8 193.2 L222.3 192.7 L222.8 192.2 L223.3 191.8 L223.8 191.5 L224.3 191.3 L224.8 191.1 L225.3 190.9 L225.8 190.7 L226.3 190.5 L226.8 190.4 L227.3 190.3 L227.8 190.2 L228.3 190.1 L228.8 190.1 L229.3 190.1 L229.8 190.2 L230.3 190.3 L230.8 190.4 L231.3 190.6 L231.8 190.7 L232.3 190.9 L232.8 191.1 L233.3 191.3 L233.8 191.5 L234.3 191.7 L234.8 191.9 L235.3 192.1 L235.8 192.3 L236.3 192.5 L236.8 192.7 L237.3 192.9 L237.8 193.1 L238.3 193.3 L238.8 193.5 L239.3 193.8 L239.8 194.0 L240.3 194.2 L240.8 194.4 L241.3 194.6 L241.8 194.9 L242.3 195.1 L242.8 195.3 L243.3 195.6 L243.8 195.8 L244.3 196.0 L244.8 196.2 L245.3 196.4 L245.8 196.6 L246.3 196.8 L246.8 197.0 L247.3 197.2 L247.8 197.4 L248.3 197.7 L248.8 197.9 L249.3 198.1 L249.8 198.3 L250.3 198.4 L250.8 198.6 L251.3 198.8 L251.8 199.0 L252.3 199.2 L252.8 199.3 L253.3 199.5 L253.8 199.6 L254.3 199.8 L254.8 199.9 L255.3 200.0 L255.8 200.1 L256.3 200.3 L256.8 200.4 L257.3 200.5 L257.8 200.6 L258.3 200.7 L258.8 200.7 L259.3 200.8 L259.8 200.9 L260.3 200.9 L260.8 201.0 L261.3 201.0 L261.8 201.1 L262.3 201.1 L262.8 201.2 L263.3 201.2 L263.8 201.2 L264.3 201.3 L264.8 201.3 L265.3 201.3 L265.8 201.3 L266.3 201.3 L266.8 201.3 L267.3 201.3 L267.8 201.3 L268.3 201.3 L268.8 201.2 L269.3 201.2 L269.8 201.1 L270.3 201.1 L270.8 201.0 L271.3 200.9 L271.8 200.8 L272.3 200.7 L272.8 200.5 L273.3 200.4 L273.8 200.2 L274.3 200.1 L274.8 199.9 L275.3 199.8 L275.8 199.6 L276.3 199.4 L276.8 199.3 L277.3 199.1 L277.8 198.9 L278.3 198.7 L278.8 198.4 L279.3 198.1 L279.8 197.8 L280.3 197.4 L280.8 197.1 L281.3 196.7 L281.8 196.4 L282.3 196.0 L282.8 195.7 L283.3 195.4 L283.8 195.1 L284.3 194.9 L284.8 194.6 L285.3 194.4 L285.8 194.2 L286.3 194.1 L286.8 193.9 L287.3 193.8 L287.8 193.7 L288.3 193.6 L288.8 193.5 L289.3 193.5 L289.8 193.6 L290.3 193.9 L290.8 194.3 L291.3 194.8 L291.8 195.4 L292.3 196.0 L292.8 196.7 L293.3 197.5 L293.8 198.7 L294.3 200.0 L294.8 201.6 L295.3 203.1 L295.8 204.5 L296.3 205.7 L296.8 207.0 L297.3 208.3 L297.8 209.5 L298.3 210.7 L298.8 211.9 L299.3 212.9 L299.8 213.7 L300.3 214.4 L300.8 215.1 L301.3 215.7 L301.8 216.3 L302.3 216.9 L302.8 217.5 L303.3 218.0 L303.8 218.5 L304.3 218.9 L304.8 219.3 L305.3 219.6 L305.8 219.9 L306.3 220.1 L306.8 220.4 L307.3 220.7 L307.8 220.9 L308.3 221.2 L308.8 221.4 L309.3 221.6 L309.8 221.8 L310.3 222.0 L310.8 222.1 L311.3 222.2 L311.8 222.3 L312.3 222.3 L312.8 222.3 L313.3 222.3 L313.8 222.3 L314.3 222.3 L314.8 222.3 L315.3 222.3 L315.8 222.3 L316.3 222.3 L316.8 222.3 L317.3 222.3 L317.8 222.3 L318.3 222.3 L318.8 222.3 L319.3 222.3 L319.8 222.3 L320.3 222.3 L320.8 222.2 L321.3 222.2 L321.8 222.2 L322.3 222.2 L322.8 222.2 L323.3 222.1 L323.8 222.1 L324.3 222.1 L324.8 222.1 L325.3 222.0 L325.8 222.0 L326.3 222.0 L326.8 221.9 L327.3 221.9 L327.8 221.8 L328.3 221.8 L328.8 221.8 L329.3 221.7 L329.8 221.6 L330.3 221.6 L330.8 221.5 L331.3 221.5 L331.8 221.4 L332.3 221.4 L332.8 221.3 L333.3 221.3 L333.8 221.2 L334.3 221.2 L334.8 221.1 L335.3 221.0 L335.8 221.0 L336.3 220.9 L336.8 220.9 L337.3 220.8 L337.8 220.7 L338.3 220.7 L338.8 220.6 L339.3 220.6 L339.8 220.5 L340.3 220.4 L340.8 220.4 L341.3 220.3 L341.8 220.2 L342.3 220.2 L342.8 220.1 L343.3 220.1 L343.8 220.0 L344.3 219.9 L344.8 219.9 L345.3 219.8 L345.8 219.7 L346.3 219.7 L346.8 219.6 L347.3 219.6 L347.8 219.5 L348.3 219.4 L348.8 219.4 L349.3 219.3 L349.8 219.3 L350.3 219.2 L350.8 219.1 L351.3 219.1 L351.8 219.0 L352.3 218.9 L352.8 218.9 L353.3 218.8 L353.8 218.8 L354.3 218.7 L354.8 218.6 L355.3 218.6 L355.8 218.5 L356.3 218.4 L356.8 218.4 L357.3 218.3 L357.8 218.2 L358.3 218.2 L358.8 218.1 L359.3 218.1 L359.8 218.0 L360.3 217.9 L360.8 217.9 L361.3 217.8 L361.8 217.7 L362.3 217.7 L362.8 217.6 L363.3 217.5 L363.8 217.5 L364.3 217.4 L364.8 217.3 L365.3 217.3 L365.8 217.2 L366.3 217.2 L366.8 217.1 L367.3 217.0 L367.8 217.0 L368.3 216.9 L368.8 216.8 L369.3 216.8 L369.8 216.7 L370.3 216.6 L370.8 216.6 L371.3 216.5 L371.8 216.4 L372.3 216.4 L372.8 216.3 L373.3 216.2 L373.8 216.2 L374.3 216.1 L374.3 240.8 L373.8 240.7 L373.3 240.7 L372.8 240.6 L372.3 240.5 L371.8 240.5 L371.3 240.4 L370.8 240.3 L370.3 240.3 L369.8 240.2 L369.3 240.1 L368.8 240.1 L368.3 240.0 L367.8 239.9 L367.3 239.8 L366.8 239.8 L366.3 239.7 L365.8 239.6 L365.3 239.6 L364.8 239.5 L364.3 239.4 L363.8 239.3 L363.3 239.3 L362.8 239.2 L362.3 239.1 L361.8 239.1 L361.3 239.0 L360.8 238.9 L360.3 238.8 L359.8 238.8 L359.3 238.7 L358.8 238.6 L358.3 238.6 L357.8 238.5 L357.3 238.4 L356.8 238.3 L356.3 238.3 L355.8 238.2 L355.3 238.1 L354.8 238.0 L354.3 238.0 L353.8 237.9 L353.3 237.8 L352.8 237.7 L352.3 237.7 L351.8 237.6 L351.3 237.5 L350.8 237.4 L350.3 237.4 L349.8 237.3 L349.3 237.2 L348.8 237.1 L348.3 237.1 L347.8 237.0 L347.3 236.9 L346.8 236.8 L346.3 236.7 L345.8 236.7 L345.3 236.6 L344.8 236.5 L344.3 236.4 L343.8 236.3 L343.3 236.3 L342.8 236.2 L342.3 236.1 L341.8 236.0 L341.3 235.9 L340.8 235.8 L340.3 235.7 L339.8 235.6 L339.3 235.4 L338.8 235.3 L338.3 235.2 L337.8 235.1 L337.3 235.0 L336.8 234.9 L336.3 234.8 L335.8 234.8 L335.3 234.7 L334.8 234.6 L334.3 234.5 L333.8 234.5 L333.3 234.4 L332.8 234.4 L332.3 234.3 L331.8 234.3 L331.3 234.2 L330.8 234.2 L330.3 234.2 L329.8 234.2 L329.3 234.2 L328.8 234.2 L328.3 234.3 L327.8 234.3 L327.3 234.4 L326.8 234.5 L326.3 234.6 L325.8 234.7 L325.3 234.9 L324.8 235.0 L324.3 235.1 L323.8 235.3 L323.3 235.4 L322.8 235.6 L322.3 235.7 L321.8 235.8 L321.3 236.0 L320.8 236.2 L320.3 236.3 L319.8 236.5 L319.3 236.7 L318.8 236.9 L318.3 237.1 L317.8 237.2 L317.3 237.4 L316.8 237.6 L316.3 237.8 L315.8 238.0 L315.3 238.3 L314.8 238.5 L314.3 238.7 L313.8 238.9 L313.3 239.1 L312.8 239.3 L312.3 239.4 L311.8 239.5 L311.3 239.6 L310.8 239.7 L310.3 239.7 L309.8 239.7 L309.3 239.7 L308.8 239.7 L308.3 239.6 L307.8 239.5 L307.3 239.2 L306.8 238.9 L306.3 238.5 L305.8 238.1 L305.3 237.7 L304.8 237.3 L304.3 236.8 L303.8 236.2 L303.3 235.5 L302.8 234.8 L302.3 234.0 L301.8 233.2 L301.3 232.2 L300.8 231.1 L300.3 229.9 L299.8 228.7 L299.3 227.4 L298.8 226.1 L298.3 224.6 L297.8 223.1 L297.3 221.6 L296.8 220.0 L296.3 218.4 L295.8 216.9 L295.3 215.2 L294.8 213.3 L294.3 211.6 L293.8 210.1 L293.3 208.9 L292.8 208.3 L292.3 207.8 L291.8 207.3 L291.3 207.0 L290.8 206.7 L290.3 206.5 L289.8 206.4 L289.3 206.4 L288.8 206.6 L288.3 206.7 L287.8 206.9 L287.3 207.1 L286.8 207.3 L286.3 207.5 L285.8 207.7 L285.3 207.9 L284.8 208.1 L284.3 208.4 L283.8 208.6 L283.3 208.8 L282.8 209.1 L282.3 209.4 L281.8 209.6 L281.3 209.9 L280.8 210.2 L280.3 210.5 L279.8 210.7 L279.3 210.9 L278.8 211.1 L278.3 211.3 L277.8 211.4 L277.3 211.5 L276.8 211.6 L276.3 211.7 L275.8 211.7 L275.3 211.8 L274.8 211.8 L274.3 211.9 L273.8 211.9 L273.3 211.9 L272.8 211.9 L272.3 211.9 L271.8 211.9 L271.3 211.9 L270.8 211.9 L270.3 211.9 L269.8 211.8 L269.3 211.8 L268.8 211.8 L268.3 211.7 L267.8 211.7 L267.3 211.7 L266.8 211.6 L266.3 211.5 L265.8 211.5 L265.3 211.4 L264.8 211.3 L264.3 211.3 L263.8 211.2 L263.3 211.1 L262.8 211.0 L262.3 210.9 L261.8 210.8 L261.3 210.7 L260.8 210.6 L260.3 210.5 L259.8 210.4 L259.3 210.2 L258.8 210.1 L258.3 209.9 L257.8 209.7 L257.3 209.5 L256.8 209.3 L256.3 209.1 L255.8 208.8 L255.3 208.6 L254.8 208.4 L254.3 208.2 L253.8 207.9 L253.3 207.7 L252.8 207.4 L252.3 207.2 L251.8 206.9 L251.3 206.6 L250.8 206.4 L250.3 206.1 L249.8 205.8 L249.3 205.5 L248.8 205.3 L248.3 205.0 L247.8 204.7 L247.3 204.4 L246.8 204.1 L246.3 203.9 L245.8 203.6 L245.3 203.3 L244.8 203.0 L244.3 202.7 L243.8 202.4 L243.3 202.1 L242.8 201.8 L242.3 201.5 L241.8 201.2 L241.3 200.9 L240.8 200.6 L240.3 200.3 L239.8 200.0 L239.3 199.7 L238.8 199.4 L238.3 199.2 L237.8 198.9 L237.3 198.6 L236.8 198.4 L236.3 198.2 L235.8 197.9 L235.3 197.7 L234.8 197.5 L234.3 197.2 L233.8 197.0 L233.3 196.8 L232.8 196.6 L232.3 196.5 L231.8 196.3 L231.3 196.1 L230.8 196.0 L230.3 195.9 L229.8 195.8 L229.3 195.7 L228.8 195.8 L228.3 195.8 L227.8 196.0 L227.3 196.1 L226.8 196.4 L226.3 196.6 L225.8 196.9 L225.3 197.2 L224.8 197.5 L224.3 197.8 L223.8 198.2 L223.3 198.6 L222.8 199.1 L222.3 199.7 L221.8 200.5 L221.3 201.2 L220.8 202.0 L220.3 202.9 L219.8 203.7 L219.3 204.6 L218.8 205.4 L218.3 206.3 L217.8 207.2 L217.3 208.2 L216.8 209.2 L216.3 210.2 L215.8 211.2 L215.3 212.2 L214.8 213.1 L214.3 214.1 L213.8 215.0 L213.3 215.8 L212.8 216.7 L212.3 217.5 L211.8 218.3 L211.3 219.1 L210.8 219.9 L210.3 220.7 L209.8 221.4 L209.3 222.2 L208.8 222.9 L208.3 223.6 L207.8 224.3 L207.3 224.9 L206.8 225.6 L206.3 226.2 L205.8 226.8 L205.3 227.4 L204.8 228.0 L204.3 228.6 L203.8 229.1 L203.3 229.7 L202.8 230.3 L202.3 230.9 L201.8 231.5 L201.3 232.1 L200.8 232.6 L200.3 233.2 L199.8 233.8 L199.3 234.3 L198.8 234.8 L198.3 235.3 L197.8 235.8 L197.3 236.3 L196.8 236.8 L196.3 237.3 L195.8 237.8 L195.3 238.2 L194.8 238.7 L194.3 239.1 L193.8 239.5 L193.3 240.0 L192.8 240.4 L192.3 240.8 L191.8 241.2 L191.3 241.6 L190.8 242.0 L190.3 242.4 L189.8 242.7 L189.3 243.1 L188.8 243.5 L188.3 243.8 L187.8 244.2 L187.3 244.5 L186.8 244.8Z" fill="#4a8c1e" fill-opacity="0.2" stroke="none"/>
</g>
<path d="M41.2 244.25 H373.8" stroke="#262626" stroke-width="0.85"/>
<path d="M41.2 15.1 V244.6" stroke="#626262" stroke-width="1.5"/>
<path d="M60.4 244.4 V249.0" stroke="#2a2a2a" stroke-width="0.75"/>
<path d="M99.2 244.4 V249.0" stroke="#2a2a2a" stroke-width="0.75"/>
<path d="M137.9 244.4 V249.0" stroke="#2a2a2a" stroke-width="0.75"/>
<path d="M176.7 244.4 V249.0" stroke="#2a2a2a" stroke-width="0.75"/>
<path d="M215.4 244.4 V249.0" stroke="#2a2a2a" stroke-width="0.75"/>
<path d="M254.2 244.4 V249.0" stroke="#2a2a2a" stroke-width="0.75"/>
<path d="M293.0 244.4 V249.0" stroke="#2a2a2a" stroke-width="0.75"/>
<path d="M331.7 244.4 V249.0" stroke="#2a2a2a" stroke-width="0.75"/>
<path d="M370.5 244.4 V249.0" stroke="#2a2a2a" stroke-width="0.75"/>
<defs>
<path id="L1" d="M51.7 244.1 L52.2 244.1 L52.7 244.1 L53.2 244.1 L53.7 244.1 L54.2 244.1 L54.7 244.1 L55.2 244.1 L55.7 244.1 L56.2 244.1 L56.7 244.1 L57.2 244.1 L57.7 244.1 L58.2 244.1 L58.7 244.1 L59.2 244.1 L59.7 244.1 L60.2 244.1 L60.7 244.1 L61.2 244.1 L61.7 244.1 L62.2 244.0 L62.7 244.0 L63.2 244.0 L63.7 244.0 L64.2 244.0 L64.7 244.0 L65.2 244.0 L65.7 244.0 L66.2 244.0 L66.7 244.0 L67.2 244.0 L67.7 244.0 L68.2 243.9 L68.7 243.9 L69.2 243.9 L69.7 243.9 L70.2 243.9 L70.7 243.9 L71.2 243.9 L71.7 243.9 L72.2 243.9 L72.7 243.9 L73.2 243.8 L73.7 243.8 L74.2 243.8 L74.7 243.8 L75.2 243.8 L75.7 243.8 L76.2 243.8 L76.7 243.8 L77.2 243.7 L77.7 243.7 L78.2 243.7 L78.7 243.7 L79.2 243.7 L79.7 243.7 L80.2 243.6 L80.7 243.6 L81.2 243.6 L81.7 243.6 L82.2 243.6 L82.7 243.5 L83.2 243.5 L83.7 243.5 L84.2 243.5 L84.7 243.4 L85.2 243.4 L85.7 243.4 L86.2 243.4 L86.7 243.3 L87.2 243.3 L87.7 243.3 L88.2 243.3 L88.7 243.2 L89.2 243.2 L89.7 243.2 L90.2 243.2 L90.7 243.1 L91.2 243.1 L91.7 243.1 L92.2 243.0 L92.7 243.0 L93.2 243.0 L93.7 243.0 L94.2 242.9 L94.7 242.9 L95.2 242.9 L95.7 242.8 L96.2 242.8 L96.7 242.8 L97.2 242.8 L97.7 242.7 L98.2 242.7 L98.7 242.7 L99.2 242.6 L99.7 242.6 L100.2 242.6 L100.7 242.6 L101.2 242.5 L101.7 242.5 L102.2 242.5 L102.7 242.4 L103.2 242.4 L103.7 242.4 L104.2 242.3 L104.7 242.3 L105.2 242.3 L105.7 242.2 L106.2 242.2 L106.7 242.1 L107.2 242.1 L107.7 242.1 L108.2 242.0 L108.7 242.0 L109.2 241.9 L109.7 241.9 L110.2 241.9 L110.7 241.8 L111.2 241.8 L111.7 241.7 L112.2 241.7 L112.7 241.6 L113.2 241.6 L113.7 241.5 L114.2 241.5 L114.7 241.5 L115.2 241.4 L115.7 241.4 L116.2 241.3 L116.7 241.2 L117.2 241.2 L117.7 241.1 L118.2 241.1 L118.7 241.0 L119.2 241.0 L119.7 240.9 L120.2 240.9 L120.7 240.8 L121.2 240.7 L121.7 240.7 L122.2 240.6 L122.7 240.6 L123.2 240.5 L123.7 240.4 L124.2 240.4 L124.7 240.3 L125.2 240.3 L125.7 240.2 L126.2 240.1 L126.7 240.1 L127.2 240.0 L127.7 239.9 L128.2 239.9 L128.7 239.8 L129.2 239.7 L129.7 239.7 L130.2 239.6 L130.7 239.5 L131.2 239.4 L131.7 239.4 L132.2 239.3 L132.7 239.2 L133.2 239.2 L133.7 239.1 L134.2 239.0 L134.7 238.9 L135.2 238.8 L135.7 238.8 L136.2 238.7 L136.7 238.6 L137.2 238.5 L137.7 238.5 L138.2 238.4 L138.7 238.3 L139.2 238.2 L139.7 238.1 L140.2 238.1 L140.7 238.0 L141.2 237.9 L141.7 237.8 L142.2 237.7 L142.7 237.7 L143.2 237.6 L143.7 237.5 L144.2 237.4 L144.7 237.3 L145.2 237.2 L145.7 237.1 L146.2 237.1 L146.7 237.0 L147.2 236.9 L147.7 236.8 L148.2 236.7 L148.7 236.6 L149.2 236.5 L149.7 236.4 L150.2 236.3 L150.7 236.2 L151.2 236.1 L151.7 236.0 L152.2 235.9 L152.7 235.9 L153.2 235.8 L153.7 235.7 L154.2 235.6 L154.7 235.5 L155.2 235.4 L155.7 235.3 L156.2 235.2 L156.7 235.0 L157.2 234.9 L157.7 234.8 L158.2 234.7 L158.7 234.6 L159.2 234.5 L159.7 234.4 L160.2 234.2 L160.7 234.1 L161.2 234.0 L161.7 233.9 L162.2 233.7 L162.7 233.6 L163.2 233.5 L163.7 233.4 L164.2 233.2 L164.7 233.1 L165.2 232.9 L165.7 232.8 L166.2 232.6 L166.7 232.5 L167.2 232.3 L167.7 232.2 L168.2 232.0 L168.7 231.9 L169.2 231.7 L169.7 231.6 L170.2 231.4 L170.7 231.2 L171.2 231.1 L171.7 230.9 L172.2 230.7 L172.7 230.5 L173.2 230.3 L173.7 230.2 L174.2 230.0 L174.7 229.8 L175.2 229.6 L175.7 229.4 L176.2 229.2 L176.7 229.0 L177.2 228.8 L177.7 228.6 L178.2 228.4 L178.7 228.2 L179.2 227.9 L179.7 227.7 L180.2 227.5 L180.7 227.2 L181.2 227.0 L181.7 226.7 L182.2 226.5 L182.7 226.2 L183.2 225.9 L183.7 225.6 L184.2 225.3 L184.7 225.0 L185.2 224.7 L185.7 224.3 L186.2 224.0 L186.7 223.6 L187.2 223.2 L187.7 222.9 L188.2 222.5 L188.7 222.1 L189.2 221.7 L189.7 221.3 L190.2 220.9 L190.7 220.5 L191.2 220.0 L191.7 219.5 L192.2 219.1 L192.7 218.6 L193.2 218.1 L193.7 217.6 L194.2 217.1 L194.7 216.7 L195.2 216.2 L195.7 215.8 L196.2 215.3 L196.7 214.9 L197.2 214.5 L197.7 214.0 L198.2 213.5 L198.7 213.0 L199.2 212.5 L199.7 211.9 L200.2 211.4 L200.7 210.8 L201.2 210.2 L201.7 209.5 L202.2 208.9 L202.7 208.2 L203.2 207.5 L203.7 206.8 L204.2 206.1 L204.7 205.3 L205.2 204.6 L205.7 203.8 L206.2 203.1 L206.7 202.3 L207.2 201.6 L207.7 200.8 L208.2 200.0 L208.7 199.2 L209.2 198.4 L209.7 197.6 L210.2 196.8 L210.7 196.0 L211.2 195.1 L211.7 194.4 L212.2 193.6 L212.7 192.9 L213.2 192.2 L213.7 191.5 L214.2 190.8 L214.7 190.1 L215.2 189.4 L215.7 188.8 L216.2 188.1 L216.7 187.5 L217.2 187.0 L217.7 186.4 L218.2 185.9 L218.7 185.4 L219.2 185.0 L219.7 184.6 L220.2 184.3 L220.7 183.9 L221.2 183.6 L221.7 183.4 L222.2 183.2 L222.7 183.1 L223.2 182.9 L223.7 182.8 L224.2 182.7 L224.7 182.7 L225.2 182.7 L225.7 182.8 L226.2 182.9 L226.7 183.0 L227.2 183.2 L227.7 183.3 L228.2 183.5 L228.7 183.8 L229.2 184.1 L229.7 184.4 L230.2 184.7 L230.7 185.1 L231.2 185.5 L231.7 185.9 L232.2 186.4 L232.7 186.9 L233.2 187.4 L233.7 187.9 L234.2 188.4 L234.7 188.9 L235.2 189.4 L235.7 189.9 L236.2 190.4 L236.7 190.9 L237.2 191.4 L237.7 191.9 L238.2 192.3 L238.7 192.8 L239.2 193.3 L239.7 193.7 L240.2 194.2 L240.7 194.7 L241.2 195.1 L241.7 195.6 L242.2 196.0 L242.7 196.5 L243.2 196.9 L243.7 197.3 L244.2 197.7 L244.7 198.1 L245.2 198.4 L245.7 198.8 L246.2 199.2 L246.7 199.5 L247.2 199.9 L247.7 200.2 L248.2 200.5 L248.7 200.8 L249.2 201.1 L249.7 201.3 L250.2 201.5 L250.7 201.7 L251.2 201.9 L251.7 202.0 L252.2 202.1 L252.7 202.2 L253.2 202.4 L253.7 202.5 L254.2 202.5 L254.7 202.6 L255.2 202.7 L255.7 202.7 L256.2 202.7 L256.7 202.7 L257.2 202.6 L257.7 202.6 L258.2 202.5 L258.7 202.4 L259.2 202.2 L259.7 202.1 L260.2 201.9 L260.7 201.7 L261.2 201.5 L261.7 201.2 L262.2 200.9 L262.7 200.5 L263.2 200.0 L263.7 199.6 L264.2 199.1 L264.7 198.6 L265.2 198.1 L265.7 197.5 L266.2 197.0 L266.7 196.4 L267.2 195.7 L267.7 195.1 L268.2 194.5 L268.7 193.8 L269.2 193.1 L269.7 192.4 L270.2 191.6 L270.7 190.8 L271.2 189.9 L271.7 189.1 L272.2 188.2 L272.7 187.2 L273.2 186.1 L273.7 184.9 L274.2 183.6 L274.7 182.1 L275.2 180.6 L275.7 178.9 L276.2 177.2 L276.7 175.5 L277.2 173.7 L277.7 172.0 L278.2 170.1 L278.7 168.0 L279.2 165.7 L279.7 163.2 L280.2 160.5 L280.7 157.6 L281.2 154.0 L281.7 149.3 L282.2 145.0 L282.7 142.1 L283.2 139.4 L283.7 135.4 L284.2 130.5 L284.7 125.0 L285.2 119.3 L285.7 113.6 L286.2 108.1 L286.7 103.0 L287.2 98.2 L287.7 93.5 L288.2 88.9 L288.7 84.5 L289.2 80.2 L289.7 75.9 L290.2 71.7 L290.7 67.6 L291.2 63.8 L291.7 60.3 L292.2 57.1 L292.7 53.9 L293.2 51.1 L293.7 48.9 L294.2 47.8 L294.7 47.8 L295.2 48.6 L295.7 50.2 L296.2 52.3 L296.7 54.7 L297.2 57.5 L297.7 60.3 L298.2 63.4 L298.7 66.8 L299.2 70.6 L299.7 74.5 L300.2 78.6 L300.7 82.7 L301.2 86.7 L301.7 90.8 L302.2 95.1 L302.7 99.2 L303.2 103.1 L303.7 106.9 L304.2 110.6 L304.7 114.0 L305.2 117.1 L305.7 119.8 L306.2 122.2 L306.7 124.5 L307.2 126.7 L307.7 128.8 L308.2 130.8 L308.7 132.7 L309.2 134.5 L309.7 136.3 L310.2 137.9 L310.7 139.6 L311.2 141.2 L311.7 142.7 L312.2 144.3 L312.7 145.8 L313.2 147.3 L313.7 148.7 L314.2 150.2 L314.7 151.6 L315.2 152.9 L315.7 154.2 L316.2 155.5 L316.7 156.7 L317.2 158.0 L317.7 159.2 L318.2 160.4 L318.7 161.5 L319.2 162.6 L319.7 163.6 L320.2 164.5 L320.7 165.3 L321.2 166.1 L321.7 166.9 L322.2 167.6 L322.7 168.4 L323.2 169.1 L323.7 169.7 L324.2 170.4 L324.7 171.1 L325.2 171.7 L325.7 172.3 L326.2 172.9 L326.7 173.5 L327.2 174.0 L327.7 174.5 L328.2 175.0 L328.7 175.5 L329.2 175.9 L329.7 176.4 L330.2 176.8 L330.7 177.1 L331.2 177.5 L331.7 177.8 L332.2 178.2 L332.7 178.5 L333.2 178.8 L333.7 179.1 L334.2 179.4 L334.7 179.7 L335.2 180.0 L335.7 180.4 L336.2 180.7 L336.7 181.0 L337.2 181.3 L337.7 181.6 L338.2 181.9 L338.7 182.2 L339.2 182.5 L339.7 182.8 L340.2 183.0 L340.7 183.2 L341.2 183.5 L341.7 183.7 L342.2 183.9 L342.7 184.1 L343.2 184.3 L343.7 184.5 L344.2 184.7 L344.7 184.9 L345.2 185.1 L345.7 185.2 L346.2 185.4 L346.7 185.5 L347.2 185.7 L347.7 185.8 L348.2 185.9 L348.7 186.0 L349.2 186.2 L349.7 186.3 L350.2 186.4 L350.7 186.5 L351.2 186.6 L351.7 186.8 L352.2 186.9 L352.7 187.0 L353.2 187.1 L353.7 187.2 L354.2 187.3 L354.7 187.3 L355.2 187.4 L355.7 187.5 L356.2 187.6 L356.7 187.7 L357.2 187.8 L357.7 187.8 L358.2 187.9 L358.7 188.0 L359.2 188.1 L359.7 188.2 L360.2 188.2 L360.7 188.3 L361.2 188.4 L361.7 188.5 L362.2 188.5 L362.7 188.6 L363.2 188.7 L363.7 188.7 L364.2 188.8 L364.7 188.9 L365.2 188.9 L365.7 189.0 L366.2 189.0 L366.7 189.1 L367.2 189.2 L367.7 189.2 L368.2 189.3 L368.7 189.3 L369.2 189.4 L369.7 189.5 L370.2 189.5 L370.7 189.6 L371.2 189.6 L371.7 189.7 L372.2 189.7 L372.7 189.8 L373.2 189.8 L373.7 189.9 L374.2 189.9 L374.3 189.9"/>
<path id="L2" d="M182.4 244.1 L182.9 243.6 L183.4 243.2 L183.9 242.7 L184.4 242.2 L184.9 241.7 L185.4 241.2 L185.9 240.7 L186.4 240.2 L186.9 239.7 L187.4 239.2 L187.9 238.7 L188.4 238.2 L188.9 237.7 L189.4 237.2 L189.9 236.7 L190.4 236.2 L190.9 235.6 L191.4 235.1 L191.9 234.6 L192.4 234.1 L192.9 233.6 L193.4 233.0 L193.9 232.5 L194.4 231.9 L194.9 231.4 L195.4 230.8 L195.9 230.3 L196.4 229.7 L196.9 229.1 L197.4 228.5 L197.9 227.9 L198.4 227.3 L198.9 226.7 L199.4 226.0 L199.9 225.4 L200.4 224.7 L200.9 224.0 L201.4 223.2 L201.9 222.5 L202.4 221.7 L202.9 221.0 L203.4 220.2 L203.9 219.3 L204.4 218.4 L204.9 217.5 L205.4 216.4 L205.9 215.4 L206.4 214.3 L206.9 213.1 L207.4 212.0 L207.9 210.8 L208.4 209.6 L208.9 208.3 L209.4 206.9 L209.9 205.4 L210.4 203.9 L210.9 202.4 L211.4 200.9 L211.9 199.3 L212.4 197.7 L212.9 196.1 L213.4 194.6 L213.9 193.0 L214.4 191.4 L214.9 189.8 L215.4 188.3 L215.9 186.8 L216.4 185.4 L216.9 184.0 L217.4 182.7 L217.9 181.4 L218.4 180.2 L218.9 179.0 L219.4 177.8 L219.9 176.6 L220.4 175.4 L220.9 174.2 L221.4 173.1 L221.9 172.0 L222.4 171.0 L222.9 170.2 L223.4 169.3 L223.9 168.5 L224.4 167.7 L224.9 167.1 L225.4 166.4 L225.9 165.9 L226.4 165.5 L226.9 165.1 L227.4 164.7 L227.9 164.4 L228.4 164.1 L228.9 163.7 L229.4 163.4 L229.9 163.1 L230.4 162.8 L230.9 162.5 L231.4 162.2 L231.9 162.0 L232.4 161.9 L232.9 161.7 L233.4 161.6 L233.9 161.5 L234.4 161.4 L234.9 161.4 L235.4 161.4 L235.9 161.5 L236.4 161.5 L236.9 161.6 L237.4 161.7 L237.9 161.8 L238.4 161.9 L238.9 162.1 L239.4 162.2 L239.9 162.4 L240.4 162.6 L240.9 162.8 L241.4 163.0 L241.9 163.2 L242.4 163.5 L242.9 163.7 L243.4 163.9 L243.9 164.1 L244.4 164.3 L244.9 164.5 L245.4 164.8 L245.9 165.0 L246.4 165.2 L246.9 165.4 L247.4 165.6 L247.9 165.8 L248.4 165.9 L248.9 166.0 L249.4 166.1 L249.9 166.2 L250.4 166.3 L250.9 166.4 L251.4 166.5 L251.9 166.6 L252.4 166.6 L252.9 166.7 L253.4 166.7 L253.9 166.8 L254.4 166.8 L254.9 166.9 L255.4 166.9 L255.9 167.0 L256.4 167.0 L256.9 167.1 L257.4 167.1 L257.9 167.1 L258.4 167.1 L258.9 167.2 L259.4 167.2 L259.9 167.2 L260.4 167.2 L260.9 167.2 L261.4 167.2 L261.9 167.1 L262.4 167.1 L262.9 167.0 L263.4 166.9 L263.9 166.8 L264.4 166.7 L264.9 166.6 L265.4 166.5 L265.9 166.4 L266.4 166.2 L266.9 166.1 L267.4 166.0 L267.9 165.8 L268.4 165.7 L268.9 165.5 L269.4 165.3 L269.9 165.0 L270.4 164.8 L270.9 164.5 L271.4 164.2 L271.9 164.0 L272.4 163.7 L272.9 163.4 L273.4 163.1 L273.9 162.8 L274.4 162.5 L274.9 162.2 L275.4 161.9 L275.9 161.5 L276.4 161.2 L276.9 160.8 L277.4 160.4 L277.9 159.9 L278.4 159.5 L278.9 159.0 L279.4 158.6 L279.9 158.1 L280.4 157.7 L280.9 157.3 L281.4 157.0 L281.9 156.7 L282.4 156.3 L282.9 156.0 L283.4 155.8 L283.9 155.5 L284.4 155.3 L284.9 155.2 L285.4 155.0 L285.9 154.9 L286.4 154.9 L286.9 155.0 L287.4 155.3 L287.9 155.7 L288.4 156.2 L288.9 156.9 L289.4 158.0 L289.9 159.2 L290.4 160.5 L290.9 162.2 L291.4 164.1 L291.9 166.5 L292.4 169.7 L292.9 173.3 L293.4 177.3 L293.9 181.9 L294.4 187.0 L294.9 191.8 L295.4 196.2 L295.9 200.6 L296.4 204.9 L296.9 209.2 L297.4 213.5 L297.9 217.6 L298.4 221.6 L298.9 225.5 L299.4 228.8 L299.9 231.5 L300.4 233.4 L300.9 234.6 L301.4 235.3 L301.9 235.7 L302.4 235.6 L302.9 235.3 L303.4 234.7 L303.9 233.6 L304.4 232.3 L304.9 230.5 L305.4 228.5 L305.9 226.6 L306.4 225.1 L306.9 223.8 L307.4 222.5 L307.9 221.2 L308.4 220.0 L308.9 218.9 L309.4 217.8 L309.9 216.7 L310.4 215.8 L310.9 214.9 L311.4 214.1 L311.9 213.4 L312.4 212.6 L312.9 211.9 L313.4 211.2 L313.9 210.5 L314.4 209.8 L314.9 209.2 L315.4 208.6 L315.9 208.0 L316.4 207.4 L316.9 206.9 L317.4 206.4 L317.9 205.9 L318.4 205.4 L318.9 204.9 L319.4 204.4 L319.9 203.9 L320.4 203.5 L320.9 203.0 L321.4 202.6 L321.9 202.2 L322.4 201.8 L322.9 201.4 L323.4 201.1 L323.9 200.7 L324.4 200.4 L324.9 200.1 L325.4 199.8 L325.9 199.4 L326.4 199.1 L326.9 198.8 L327.4 198.6 L327.9 198.3 L328.4 198.0 L328.9 197.8 L329.4 197.6 L329.9 197.3 L330.4 197.1 L330.9 196.9 L331.4 196.7 L331.9 196.5 L332.4 196.3 L332.9 196.1 L333.4 196.0 L333.9 195.8 L334.4 195.6 L334.9 195.4 L335.4 195.2 L335.9 195.1 L336.4 194.9 L336.9 194.7 L337.4 194.5 L337.9 194.4 L338.4 194.2 L338.9 194.0 L339.4 193.8 L339.9 193.7 L340.4 193.5 L340.9 193.4 L341.4 193.2 L341.9 193.0 L342.4 192.9 L342.9 192.7 L343.4 192.6 L343.9 192.4 L344.4 192.3 L344.9 192.1 L345.4 192.0 L345.9 191.8 L346.4 191.7 L346.9 191.5 L347.4 191.4 L347.9 191.2 L348.4 191.1 L348.9 191.0 L349.4 190.8 L349.9 190.7 L350.4 190.5 L350.9 190.4 L351.4 190.2 L351.9 190.1 L352.4 190.0 L352.9 189.8 L353.4 189.7 L353.9 189.6 L354.4 189.5 L354.9 189.3 L355.4 189.2 L355.9 189.1 L356.4 189.0 L356.9 188.9 L357.4 188.8 L357.9 188.7 L358.4 188.6 L358.9 188.5 L359.4 188.4 L359.9 188.3 L360.4 188.2 L360.9 188.1 L361.4 188.0 L361.9 187.9 L362.4 187.8 L362.9 187.7 L363.4 187.6 L363.9 187.5 L364.4 187.4 L364.9 187.3 L365.4 187.2 L365.9 187.1 L366.4 187.0 L366.9 186.9 L367.4 186.9 L367.9 186.8 L368.4 186.7 L368.9 186.6 L369.4 186.6 L369.9 186.5 L370.4 186.4 L370.9 186.4 L371.4 186.3 L371.9 186.2 L372.4 186.2 L372.9 186.1 L373.4 186.1 L373.9 186.0 L374.3 186.0"/>
<path id="L3" d="M186.8 244.1 L187.3 243.6 L187.8 243.1 L188.3 242.6 L188.8 242.1 L189.3 241.5 L189.8 241.0 L190.3 240.5 L190.8 240.0 L191.3 239.5 L191.8 239.0 L192.3 238.5 L192.8 238.0 L193.3 237.5 L193.8 236.9 L194.3 236.4 L194.8 235.9 L195.3 235.4 L195.8 234.9 L196.3 234.4 L196.8 233.9 L197.3 233.4 L197.8 232.9 L198.3 232.4 L198.8 231.8 L199.3 231.3 L199.8 230.7 L200.3 230.1 L200.8 229.5 L201.3 228.8 L201.8 228.2 L202.3 227.5 L202.8 226.9 L203.3 226.3 L203.8 225.6 L204.3 225.0 L204.8 224.3 L205.3 223.7 L205.8 223.0 L206.3 222.3 L206.8 221.7 L207.3 221.0 L207.8 220.3 L208.3 219.6 L208.8 218.8 L209.3 218.1 L209.8 217.3 L210.3 216.5 L210.8 215.7 L211.3 214.9 L211.8 214.1 L212.3 213.2 L212.8 212.3 L213.3 211.4 L213.8 210.4 L214.3 209.5 L214.8 208.5 L215.3 207.5 L215.8 206.6 L216.3 205.6 L216.8 204.7 L217.3 203.8 L217.8 202.9 L218.3 202.0 L218.8 201.2 L219.3 200.4 L219.8 199.6 L220.3 198.8 L220.8 198.1 L221.3 197.4 L221.8 196.8 L222.3 196.2 L222.8 195.7 L223.3 195.2 L223.8 194.8 L224.3 194.4 L224.8 194.1 L225.3 193.9 L225.8 193.6 L226.3 193.5 L226.8 193.3 L227.3 193.2 L227.8 193.1 L228.3 193.0 L228.8 192.9 L229.3 192.9 L229.8 192.9 L230.3 192.9 L230.8 193.0 L231.3 193.1 L231.8 193.2 L232.3 193.3 L232.8 193.5 L233.3 193.6 L233.8 193.8 L234.3 194.0 L234.8 194.3 L235.3 194.5 L235.8 194.8 L236.3 195.1 L236.8 195.4 L237.3 195.7 L237.8 196.0 L238.3 196.3 L238.8 196.5 L239.3 196.8 L239.8 197.0 L240.3 197.3 L240.8 197.6 L241.3 197.8 L241.8 198.1 L242.3 198.4 L242.8 198.6 L243.3 198.9 L243.8 199.1 L244.3 199.4 L244.8 199.6 L245.3 199.9 L245.8 200.1 L246.3 200.3 L246.8 200.6 L247.3 200.8 L247.8 201.1 L248.3 201.3 L248.8 201.5 L249.3 201.8 L249.8 202.0 L250.3 202.2 L250.8 202.5 L251.3 202.7 L251.8 202.9 L252.3 203.1 L252.8 203.3 L253.3 203.5 L253.8 203.7 L254.3 203.9 L254.8 204.0 L255.3 204.2 L255.8 204.4 L256.3 204.5 L256.8 204.7 L257.3 204.8 L257.8 205.0 L258.3 205.1 L258.8 205.2 L259.3 205.4 L259.8 205.5 L260.3 205.6 L260.8 205.7 L261.3 205.8 L261.8 206.0 L262.3 206.0 L262.8 206.1 L263.3 206.2 L263.8 206.3 L264.3 206.4 L264.8 206.5 L265.3 206.5 L265.8 206.6 L266.3 206.7 L266.8 206.7 L267.3 206.8 L267.8 206.9 L268.3 206.9 L268.8 206.9 L269.3 207.0 L269.8 207.0 L270.3 207.0 L270.8 207.0 L271.3 207.0 L271.8 207.0 L272.3 207.0 L272.8 206.9 L273.3 206.8 L273.8 206.7 L274.3 206.6 L274.8 206.5 L275.3 206.3 L275.8 206.1 L276.3 205.9 L276.8 205.8 L277.3 205.6 L277.8 205.4 L278.3 205.2 L278.8 204.9 L279.3 204.7 L279.8 204.4 L280.3 204.1 L280.8 203.9 L281.3 203.6 L281.8 203.3 L282.3 203.0 L282.8 202.6 L283.3 202.3 L283.8 201.9 L284.3 201.6 L284.8 201.2 L285.3 200.9 L285.8 200.6 L286.3 200.3 L286.8 200.1 L287.3 199.9 L287.8 199.8 L288.3 199.7 L288.8 199.7 L289.3 199.7 L289.8 199.7 L290.3 199.9 L290.8 200.3 L291.3 200.9 L291.8 201.5 L292.3 202.2 L292.8 202.9 L293.3 203.8 L293.8 204.7 L294.3 205.8 L294.8 206.8 L295.3 208.1 L295.8 209.4 L296.3 210.9 L296.8 212.3 L297.3 213.8 L297.8 215.2 L298.3 216.5 L298.8 217.8 L299.3 218.8 L299.8 219.7 L300.3 220.6 L300.8 221.5 L301.3 222.3 L301.8 223.1 L302.3 223.9 L302.8 224.6 L303.3 225.2 L303.8 225.7 L304.3 226.2 L304.8 226.5 L305.3 226.7 L305.8 226.9 L306.3 227.1 L306.8 227.3 L307.3 227.5 L307.8 227.7 L308.3 227.8 L308.8 228.0 L309.3 228.1 L309.8 228.3 L310.3 228.4 L310.8 228.5 L311.3 228.5 L311.8 228.6 L312.3 228.6 L312.8 228.6 L313.3 228.6 L313.8 228.6 L314.3 228.6 L314.8 228.6 L315.3 228.6 L315.8 228.6 L316.3 228.6 L316.8 228.6 L317.3 228.7 L317.8 228.7 L318.3 228.7 L318.8 228.7 L319.3 228.7 L319.8 228.7 L320.3 228.7 L320.8 228.7 L321.3 228.7 L321.8 228.7 L322.3 228.7 L322.8 228.7 L323.3 228.7 L323.8 228.7 L324.3 228.7 L324.8 228.7 L325.3 228.7 L325.8 228.7 L326.3 228.7 L326.8 228.7 L327.3 228.7 L327.8 228.7 L328.3 228.7 L328.8 228.7 L329.3 228.7 L329.8 228.7 L330.3 228.7 L330.8 228.7 L331.3 228.7 L331.8 228.7 L332.3 228.7 L332.8 228.7 L333.3 228.7 L333.8 228.6 L334.3 228.6 L334.8 228.6 L335.3 228.6 L335.8 228.6 L336.3 228.6 L336.8 228.6 L337.3 228.6 L337.8 228.6 L338.3 228.6 L338.8 228.6 L339.3 228.6 L339.8 228.6 L340.3 228.6 L340.8 228.6 L341.3 228.6 L341.8 228.6 L342.3 228.6 L342.8 228.6 L343.3 228.6 L343.8 228.6 L344.3 228.6 L344.8 228.5 L345.3 228.5 L345.8 228.5 L346.3 228.5 L346.8 228.5 L347.3 228.5 L347.8 228.5 L348.3 228.5 L348.8 228.5 L349.3 228.5 L349.8 228.5 L350.3 228.5 L350.8 228.5 L351.3 228.5 L351.8 228.5 L352.3 228.5 L352.8 228.5 L353.3 228.5 L353.8 228.5 L354.3 228.5 L354.8 228.5 L355.3 228.5 L355.8 228.5 L356.3 228.4 L356.8 228.4 L357.3 228.4 L357.8 228.4 L358.3 228.4 L358.8 228.4 L359.3 228.4 L359.8 228.4 L360.3 228.4 L360.8 228.4 L361.3 228.4 L361.8 228.4 L362.3 228.4 L362.8 228.4 L363.3 228.4 L363.8 228.4 L364.3 228.4 L364.8 228.4 L365.3 228.4 L365.8 228.4 L366.3 228.4 L366.8 228.4 L367.3 228.4 L367.8 228.4 L368.3 228.3 L368.8 228.3 L369.3 228.3 L369.8 228.3 L370.3 228.3 L370.8 228.3 L371.3 228.3 L371.8 228.3 L372.3 228.3 L372.8 228.3 L373.3 228.3 L373.8 228.3 L374.3 228.3"/>
</defs>
<use href="#L1" fill="none" stroke="#bd2638" stroke-opacity="0.15" stroke-width="3.2" stroke-linejoin="round"/>
<use href="#L2" fill="none" stroke="#2b7b82" stroke-opacity="0.15" stroke-width="3.2" stroke-linejoin="round"/>
<use href="#L3" fill="none" stroke="#4a8c1e" stroke-opacity="0.15" stroke-width="3.2" stroke-linejoin="round"/>
<use href="#L1" fill="none" stroke="#bd2638" stroke-width="1.05" stroke-linejoin="round"/>
<use href="#L2" fill="none" stroke="#2b7b82" stroke-width="1.05" stroke-linejoin="round"/>
<use href="#L3" fill="none" stroke="#4a8c1e" stroke-width="1.05" stroke-linejoin="round"/>
<path d="M41.6 244.1 H45.8" stroke="#2a2a2a" stroke-width="0.75"/>
<text x="37.40" y="248.60" font-size="12.5" class="tk" text-anchor="end">0</text>
<path d="M41.6 198.4 H45.8" stroke="#2a2a2a" stroke-width="0.75"/>
<text x="37.40" y="202.88" font-size="12.5" class="tk" text-anchor="end">0.2</text>
<path d="M41.6 152.7 H45.8" stroke="#2a2a2a" stroke-width="0.75"/>
<text x="37.40" y="157.16" font-size="12.5" class="tk" text-anchor="end">0.4</text>
<path d="M41.6 106.9 H45.8" stroke="#2a2a2a" stroke-width="0.75"/>
<text x="37.40" y="111.44" font-size="12.5" class="tk" text-anchor="end">0.6</text>
<path d="M41.6 61.2 H45.8" stroke="#2a2a2a" stroke-width="0.75"/>
<text x="37.40" y="65.72" font-size="12.5" class="tk" text-anchor="end">0.8</text>
<path d="M41.6 15.5 H45.8" stroke="#2a2a2a" stroke-width="0.75"/>
<text x="37.40" y="20.00" font-size="12.5" class="tk" text-anchor="end">1</text>
<circle cx="51.7" cy="244.1" r="2.4" fill="#fff" stroke="#111" stroke-width="0.9"/>
<circle cx="182.5" cy="244.1" r="2.4" fill="#fff" stroke="#111" stroke-width="0.9"/>
<circle cx="186.7" cy="244.1" r="2.4" fill="#fff" stroke="#111" stroke-width="0.9"/>
<circle cx="313.6" cy="244.1" r="2.4" fill="#fff" stroke="#b4b4b4" stroke-width="0.9"/>
<text x="60.30" y="262.40" font-size="12.5" class="tk" text-anchor="middle">0.30</text>
<text x="99.06" y="262.40" font-size="12.5" class="tk" text-anchor="middle">0.32</text>
<text x="137.82" y="262.40" font-size="12.5" class="tk" text-anchor="middle">0.34</text>
<text x="176.58" y="262.40" font-size="12.5" class="tk" text-anchor="middle">0.36</text>
<text x="215.34" y="262.40" font-size="12.5" class="tk" text-anchor="middle">0.38</text>
<text x="254.10" y="262.40" font-size="12.5" class="tk" text-anchor="middle">0.40</text>
<text x="292.86" y="262.40" font-size="12.5" class="tk" text-anchor="middle">0.42</text>
<text x="331.62" y="262.40" font-size="12.5" class="tk" text-anchor="middle">0.44</text>
<text x="370.38" y="262.40" font-size="12.5" class="tk" text-anchor="middle">0.46</text>
<clipPath id="c2"><rect x="41" y="0" width="333.4" height="513.5"/></clipPath>
<g clip-path="url(#c2)">
<path d="M186.8 512.5 L187.3 512.2 L187.8 511.7 L188.3 511.2 L188.8 510.7 L189.3 510.1 L189.8 509.4 L190.3 508.7 L190.8 507.9 L191.3 507.1 L191.8 506.3 L192.3 505.5 L192.8 504.6 L193.3 503.7 L193.8 502.8 L194.3 501.9 L194.8 500.9 L195.3 499.9 L195.8 498.8 L196.3 497.7 L196.8 496.5 L197.3 495.2 L197.8 493.9 L198.3 492.5 L198.8 491.1 L199.3 489.7 L199.8 488.3 L200.3 486.8 L200.8 485.3 L201.3 483.9 L201.8 482.4 L202.3 480.9 L202.8 479.4 L203.3 477.8 L203.8 476.1 L204.3 474.4 L204.8 472.6 L205.3 470.7 L205.8 468.8 L206.3 466.8 L206.8 464.8 L207.3 462.7 L207.8 460.1 L208.3 457.3 L208.8 454.4 L209.3 451.5 L209.8 448.4 L210.3 445.3 L210.8 442.1 L211.3 439.1 L211.8 436.2 L212.3 433.4 L212.8 430.8 L213.3 428.2 L213.8 425.7 L214.3 423.3 L214.8 420.9 L215.3 418.6 L215.8 416.2 L216.3 413.9 L216.8 411.5 L217.3 409.2 L217.8 407.0 L218.3 404.8 L218.8 402.7 L219.3 400.8 L219.8 399.1 L220.3 397.4 L220.8 395.8 L221.3 394.3 L221.8 392.9 L222.3 391.5 L222.8 390.1 L223.3 388.7 L223.8 387.4 L224.3 386.2 L224.8 385.1 L225.3 384.0 L225.8 383.0 L226.3 382.1 L226.8 381.3 L227.3 380.6 L227.8 380.0 L228.3 379.4 L228.8 378.9 L229.3 378.5 L229.8 378.1 L230.3 377.8 L230.8 377.6 L231.3 377.3 L231.8 377.0 L232.3 376.8 L232.8 376.6 L233.3 376.5 L233.8 376.5 L234.3 376.5 L234.8 376.6 L235.3 376.7 L235.8 376.8 L236.3 376.9 L236.8 377.1 L237.3 377.2 L237.8 377.4 L238.3 377.6 L238.8 377.8 L239.3 378.1 L239.8 378.4 L240.3 378.7 L240.8 379.0 L241.3 379.3 L241.8 379.6 L242.3 379.9 L242.8 380.3 L243.3 380.6 L243.8 381.0 L244.3 381.3 L244.8 381.7 L245.3 382.1 L245.8 382.5 L246.3 382.9 L246.8 383.3 L247.3 383.7 L247.8 384.1 L248.3 384.5 L248.8 384.9 L249.3 385.3 L249.8 385.6 L250.3 386.0 L250.8 386.4 L251.3 386.8 L251.8 387.2 L252.3 387.6 L252.8 388.0 L253.3 388.4 L253.8 388.8 L254.3 389.2 L254.8 389.6 L255.3 390.0 L255.8 390.4 L256.3 390.9 L256.8 391.3 L257.3 391.7 L257.8 392.1 L258.3 392.5 L258.8 392.9 L259.3 393.3 L259.8 393.7 L260.3 394.1 L260.8 394.4 L261.3 394.8 L261.8 395.2 L262.3 395.6 L262.8 396.0 L263.3 396.3 L263.8 396.7 L264.3 397.0 L264.8 397.4 L265.3 397.7 L265.8 398.1 L266.3 398.4 L266.8 398.7 L267.3 399.0 L267.8 399.3 L268.3 399.6 L268.8 399.9 L269.3 400.2 L269.8 400.5 L270.3 400.8 L270.8 401.0 L271.3 401.3 L271.8 401.5 L272.3 401.8 L272.8 402.0 L273.3 402.2 L273.8 402.4 L274.3 402.7 L274.8 402.9 L275.3 403.0 L275.8 403.2 L276.3 403.4 L276.8 403.6 L277.3 403.7 L277.8 403.9 L278.3 404.0 L278.8 404.2 L279.3 404.3 L279.8 404.3 L280.3 404.2 L280.8 404.0 L281.3 403.7 L281.8 403.3 L282.3 402.9 L282.8 402.4 L283.3 401.9 L283.8 401.3 L284.3 400.7 L284.8 400.1 L285.3 399.5 L285.8 398.8 L286.3 398.2 L286.8 397.5 L287.3 396.5 L287.8 395.1 L288.3 393.4 L288.8 391.4 L289.3 389.3 L289.8 387.1 L290.3 384.8 L290.8 381.8 L291.3 378.5 L291.8 376.0 L292.3 373.9 L292.8 372.1 L293.3 370.7 L293.8 369.8 L294.3 369.0 L294.8 368.4 L295.3 367.8 L295.8 367.6 L296.3 367.7 L296.8 367.9 L297.3 368.3 L297.8 368.7 L298.3 369.2 L298.8 369.8 L299.3 370.5 L299.8 371.3 L300.3 372.2 L300.8 373.1 L301.3 374.1 L301.8 375.0 L302.3 376.0 L302.8 377.0 L303.3 378.0 L303.8 379.1 L304.3 380.1 L304.8 381.1 L305.3 382.1 L305.8 383.0 L306.3 383.8 L306.8 384.5 L307.3 385.2 L307.8 385.9 L308.3 386.6 L308.8 387.2 L309.3 387.9 L309.8 388.5 L310.3 389.0 L310.8 389.6 L311.3 390.2 L311.8 390.7 L312.3 391.2 L312.8 391.7 L313.3 392.2 L313.8 392.7 L314.3 393.2 L314.8 393.7 L315.3 394.1 L315.8 394.6 L316.3 395.1 L316.8 395.6 L317.3 396.1 L317.8 396.5 L318.3 397.0 L318.8 397.5 L319.3 397.9 L319.8 398.4 L320.3 398.8 L320.8 399.3 L321.3 399.7 L321.8 400.1 L322.3 400.5 L322.8 400.9 L323.3 401.3 L323.8 401.7 L324.3 402.1 L324.8 402.4 L325.3 402.8 L325.8 403.1 L326.3 403.4 L326.8 403.7 L327.3 404.0 L327.8 404.3 L328.3 404.6 L328.8 404.8 L329.3 405.1 L329.8 405.4 L330.3 405.6 L330.8 405.9 L331.3 406.2 L331.8 406.4 L332.3 406.7 L332.8 406.9 L333.3 407.2 L333.8 407.4 L334.3 407.7 L334.8 407.9 L335.3 408.2 L335.8 408.4 L336.3 408.7 L336.8 408.9 L337.3 409.1 L337.8 409.4 L338.3 409.7 L338.8 409.9 L339.3 410.2 L339.8 410.4 L340.3 410.7 L340.8 410.9 L341.3 411.2 L341.8 411.4 L342.3 411.6 L342.8 411.9 L343.3 412.1 L343.8 412.4 L344.3 412.6 L344.8 412.9 L345.3 413.1 L345.8 413.4 L346.3 413.6 L346.8 413.9 L347.3 414.1 L347.8 414.4 L348.3 414.6 L348.8 414.9 L349.3 415.1 L349.8 415.4 L350.3 415.6 L350.8 415.9 L351.3 416.1 L351.8 416.4 L352.3 416.6 L352.8 416.9 L353.3 417.1 L353.8 417.4 L354.3 417.6 L354.8 417.9 L355.3 418.1 L355.8 418.4 L356.3 418.6 L356.8 418.9 L357.3 419.1 L357.8 419.4 L358.3 419.6 L358.8 419.9 L359.3 420.1 L359.8 420.4 L360.3 420.6 L360.8 420.9 L361.3 421.1 L361.8 421.4 L362.3 421.6 L362.8 421.9 L363.3 422.1 L363.8 422.4 L364.3 422.6 L364.8 422.9 L365.3 423.1 L365.8 423.4 L366.3 423.6 L366.8 423.9 L367.3 424.1 L367.8 424.4 L368.3 424.6 L368.8 424.9 L369.3 425.1 L369.8 425.4 L370.3 425.6 L370.8 425.9 L371.3 426.1 L371.8 426.4 L372.3 426.6 L372.8 426.9 L373.3 427.1 L373.8 427.4 L374.3 427.6 L374.3 487.9 L373.8 487.5 L373.3 487.1 L372.8 486.7 L372.3 486.4 L371.8 486.0 L371.3 485.6 L370.8 485.2 L370.3 484.8 L369.8 484.4 L369.3 484.0 L368.8 483.6 L368.3 483.2 L367.8 482.8 L367.3 482.4 L366.8 482.1 L366.3 481.7 L365.8 481.3 L365.3 480.9 L364.8 480.5 L364.3 480.1 L363.8 479.7 L363.3 479.3 L362.8 478.9 L362.3 478.5 L361.8 478.1 L361.3 477.6 L360.8 477.2 L360.3 476.8 L359.8 476.4 L359.3 476.0 L358.8 475.6 L358.3 475.2 L357.8 474.8 L357.3 474.4 L356.8 474.0 L356.3 473.6 L355.8 473.2 L355.3 472.7 L354.8 472.3 L354.3 471.9 L353.8 471.5 L353.3 471.1 L352.8 470.7 L352.3 470.2 L351.8 469.8 L351.3 469.4 L350.8 469.0 L350.3 468.5 L349.8 468.1 L349.3 467.7 L348.8 467.2 L348.3 466.8 L347.8 466.4 L347.3 465.9 L346.8 465.5 L346.3 465.0 L345.8 464.6 L345.3 464.1 L344.8 463.7 L344.3 463.2 L343.8 462.7 L343.3 462.3 L342.8 461.8 L342.3 461.3 L341.8 460.9 L341.3 460.4 L340.8 459.9 L340.3 459.5 L339.8 459.0 L339.3 458.5 L338.8 458.1 L338.3 457.6 L337.8 457.1 L337.3 456.7 L336.8 456.2 L336.3 455.8 L335.8 455.3 L335.3 454.9 L334.8 454.4 L334.3 454.0 L333.8 453.5 L333.3 453.1 L332.8 452.6 L332.3 452.2 L331.8 451.8 L331.3 451.3 L330.8 450.9 L330.3 450.4 L329.8 450.0 L329.3 449.6 L328.8 449.1 L328.3 448.7 L327.8 448.2 L327.3 447.8 L326.8 447.3 L326.3 446.9 L325.8 446.4 L325.3 445.9 L324.8 445.5 L324.3 445.0 L323.8 444.5 L323.3 444.1 L322.8 443.6 L322.3 443.1 L321.8 442.7 L321.3 442.2 L320.8 441.7 L320.3 441.2 L319.8 440.7 L319.3 440.2 L318.8 439.7 L318.3 439.2 L317.8 438.7 L317.3 438.1 L316.8 437.6 L316.3 437.0 L315.8 436.5 L315.3 435.9 L314.8 435.2 L314.3 434.6 L313.8 433.9 L313.3 433.3 L312.8 432.6 L312.3 431.8 L311.8 431.1 L311.3 430.3 L310.8 429.6 L310.3 428.8 L309.8 428.0 L309.3 427.2 L308.8 426.4 L308.3 425.6 L307.8 424.8 L307.3 424.0 L306.8 423.2 L306.3 422.4 L305.8 421.6 L305.3 420.9 L304.8 420.1 L304.3 419.3 L303.8 418.5 L303.3 417.6 L302.8 416.5 L302.3 415.3 L301.8 413.8 L301.3 412.2 L300.8 410.5 L300.3 408.9 L299.8 407.3 L299.3 405.8 L298.8 404.3 L298.3 402.8 L297.8 401.1 L297.3 399.6 L296.8 398.2 L296.3 397.1 L295.8 396.3 L295.3 395.9 L294.8 396.0 L294.3 396.6 L293.8 397.5 L293.3 398.6 L292.8 399.9 L292.3 401.2 L291.8 402.6 L291.3 403.8 L290.8 405.2 L290.3 406.8 L289.8 408.4 L289.3 410.1 L288.8 411.8 L288.3 413.4 L287.8 414.8 L287.3 416.0 L286.8 416.8 L286.3 417.4 L285.8 418.0 L285.3 418.4 L284.8 418.9 L284.3 419.3 L283.8 419.7 L283.3 420.0 L282.8 420.3 L282.3 420.5 L281.8 420.7 L281.3 420.9 L280.8 421.0 L280.3 421.0 L279.8 421.0 L279.3 421.0 L278.8 420.9 L278.3 420.9 L277.8 420.8 L277.3 420.8 L276.8 420.7 L276.3 420.6 L275.8 420.5 L275.3 420.4 L274.8 420.3 L274.3 420.1 L273.8 420.0 L273.3 419.8 L272.8 419.7 L272.3 419.5 L271.8 419.3 L271.3 419.0 L270.8 418.8 L270.3 418.5 L269.8 418.2 L269.3 417.9 L268.8 417.6 L268.3 417.3 L267.8 416.9 L267.3 416.5 L266.8 416.1 L266.3 415.7 L265.8 415.3 L265.3 414.8 L264.8 414.4 L264.3 413.9 L263.8 413.4 L263.3 413.0 L262.8 412.5 L262.3 412.0 L261.8 411.5 L261.3 411.0 L260.8 410.5 L260.3 410.0 L259.8 409.4 L259.3 408.8 L258.8 408.3 L258.3 407.7 L257.8 407.1 L257.3 406.5 L256.8 405.8 L256.3 405.2 L255.8 404.6 L255.3 404.0 L254.8 403.3 L254.3 402.7 L253.8 402.1 L253.3 401.4 L252.8 400.8 L252.3 400.2 L251.8 399.6 L251.3 399.0 L250.8 398.4 L250.3 397.8 L249.8 397.3 L249.3 396.7 L248.8 396.2 L248.3 395.6 L247.8 395.0 L247.3 394.5 L246.8 394.0 L246.3 393.4 L245.8 392.9 L245.3 392.4 L244.8 391.8 L244.3 391.3 L243.8 390.8 L243.3 390.3 L242.8 389.9 L242.3 389.4 L241.8 389.0 L241.3 388.5 L240.8 388.1 L240.3 387.6 L239.8 387.2 L239.3 386.8 L238.8 386.5 L238.3 386.2 L237.8 385.9 L237.3 385.6 L236.8 385.4 L236.3 385.2 L235.8 385.0 L235.3 384.8 L234.8 384.7 L234.3 384.6 L233.8 384.6 L233.3 384.7 L232.8 384.8 L232.3 385.1 L231.8 385.3 L231.3 385.6 L230.8 385.9 L230.3 386.3 L229.8 386.9 L229.3 387.5 L228.8 388.1 L228.3 388.7 L227.8 389.4 L227.3 390.3 L226.8 391.2 L226.3 392.2 L225.8 393.4 L225.3 394.9 L224.8 396.6 L224.3 398.5 L223.8 400.4 L223.3 402.4 L222.8 404.5 L222.3 406.6 L221.8 408.8 L221.3 411.1 L220.8 413.4 L220.3 415.8 L219.8 418.1 L219.3 420.5 L218.8 422.9 L218.3 425.4 L217.8 427.9 L217.3 430.4 L216.8 433.0 L216.3 435.5 L215.8 438.3 L215.3 441.1 L214.8 443.9 L214.3 446.7 L213.8 449.5 L213.3 452.1 L212.8 454.5 L212.3 456.7 L211.8 458.8 L211.3 460.7 L210.8 462.4 L210.3 464.1 L209.8 465.8 L209.3 467.5 L208.8 469.1 L208.3 470.7 L207.8 472.3 L207.3 473.9 L206.8 475.5 L206.3 477.0 L205.8 478.5 L205.3 479.9 L204.8 481.3 L204.3 482.7 L203.8 484.0 L203.3 485.4 L202.8 486.8 L202.3 488.1 L201.8 489.5 L201.3 490.8 L200.8 492.1 L200.3 493.4 L199.8 494.6 L199.3 495.8 L198.8 497.0 L198.3 498.1 L197.8 499.1 L197.3 500.1 L196.8 501.0 L196.3 501.9 L195.8 502.7 L195.3 503.5 L194.8 504.3 L194.3 505.1 L193.8 505.8 L193.3 506.6 L192.8 507.3 L192.3 508.0 L191.8 508.7 L191.3 509.4 L190.8 510.0 L190.3 510.6 L189.8 511.1 L189.3 511.7 L188.8 512.1 L188.3 512.5 L187.8 512.9 L187.3 513.2 L186.8 513.5Z" fill="#2b7b82" fill-opacity="0.2" stroke="none"/>
<path d="M186.8 512.5 L187.3 512.3 L187.8 512.1 L188.3 511.8 L188.8 511.5 L189.3 511.2 L189.8 510.8 L190.3 510.4 L190.8 510.0 L191.3 509.6 L191.8 509.1 L192.3 508.7 L192.8 508.2 L193.3 507.6 L193.8 507.1 L194.3 506.6 L194.8 506.0 L195.3 505.5 L195.8 504.9 L196.3 504.4 L196.8 503.8 L197.3 503.3 L197.8 502.6 L198.3 502.0 L198.8 501.3 L199.3 500.6 L199.8 499.8 L200.3 499.0 L200.8 498.2 L201.3 497.3 L201.8 496.4 L202.3 495.5 L202.8 494.6 L203.3 493.6 L203.8 492.7 L204.3 491.7 L204.8 490.7 L205.3 489.6 L205.8 488.6 L206.3 487.6 L206.8 486.5 L207.3 485.3 L207.8 484.1 L208.3 482.8 L208.8 481.5 L209.3 480.2 L209.8 478.8 L210.3 477.4 L210.8 476.0 L211.3 474.5 L211.8 473.0 L212.3 471.6 L212.8 470.1 L213.3 468.6 L213.8 467.0 L214.3 465.3 L214.8 463.5 L215.3 461.7 L215.8 459.9 L216.3 458.2 L216.8 456.7 L217.3 455.3 L217.8 454.0 L218.3 452.9 L218.8 451.9 L219.3 451.0 L219.8 450.0 L220.3 449.0 L220.8 448.0 L221.3 447.0 L221.8 446.0 L222.3 445.0 L222.8 444.0 L223.3 443.1 L223.8 442.1 L224.3 441.1 L224.8 440.2 L225.3 439.3 L225.8 438.5 L226.3 437.6 L226.8 436.8 L227.3 436.0 L227.8 435.3 L228.3 434.7 L228.8 434.2 L229.3 433.8 L229.8 433.3 L230.3 432.9 L230.8 432.6 L231.3 432.3 L231.8 432.1 L232.3 431.9 L232.8 431.8 L233.3 431.6 L233.8 431.5 L234.3 431.4 L234.8 431.3 L235.3 431.3 L235.8 431.3 L236.3 431.4 L236.8 431.5 L237.3 431.6 L237.8 431.7 L238.3 431.9 L238.8 432.1 L239.3 432.2 L239.8 432.4 L240.3 432.6 L240.8 432.8 L241.3 433.1 L241.8 433.3 L242.3 433.6 L242.8 433.8 L243.3 434.1 L243.8 434.4 L244.3 434.6 L244.8 434.8 L245.3 435.1 L245.8 435.3 L246.3 435.5 L246.8 435.8 L247.3 436.0 L247.8 436.2 L248.3 436.5 L248.8 436.7 L249.3 437.0 L249.8 437.2 L250.3 437.4 L250.8 437.6 L251.3 437.9 L251.8 438.1 L252.3 438.3 L252.8 438.6 L253.3 438.8 L253.8 439.0 L254.3 439.3 L254.8 439.5 L255.3 439.7 L255.8 439.9 L256.3 440.1 L256.8 440.4 L257.3 440.6 L257.8 440.8 L258.3 441.0 L258.8 441.2 L259.3 441.4 L259.8 441.7 L260.3 441.9 L260.8 442.1 L261.3 442.3 L261.8 442.5 L262.3 442.7 L262.8 442.9 L263.3 443.1 L263.8 443.3 L264.3 443.5 L264.8 443.7 L265.3 443.9 L265.8 444.1 L266.3 444.3 L266.8 444.5 L267.3 444.7 L267.8 444.9 L268.3 445.1 L268.8 445.3 L269.3 445.6 L269.8 445.8 L270.3 446.0 L270.8 446.2 L271.3 446.4 L271.8 446.7 L272.3 446.9 L272.8 447.1 L273.3 447.3 L273.8 447.5 L274.3 447.8 L274.8 448.0 L275.3 448.2 L275.8 448.4 L276.3 448.6 L276.8 448.8 L277.3 449.0 L277.8 449.2 L278.3 449.4 L278.8 449.6 L279.3 449.7 L279.8 449.8 L280.3 449.8 L280.8 449.8 L281.3 449.8 L281.8 449.7 L282.3 449.6 L282.8 449.5 L283.3 449.3 L283.8 449.1 L284.3 448.8 L284.8 448.5 L285.3 448.3 L285.8 447.9 L286.3 447.6 L286.8 447.0 L287.3 446.0 L287.8 444.7 L288.3 443.2 L288.8 441.4 L289.3 439.6 L289.8 437.7 L290.3 435.9 L290.8 434.2 L291.3 432.7 L291.8 431.6 L292.3 430.7 L292.8 429.8 L293.3 428.9 L293.8 428.1 L294.3 427.3 L294.8 426.6 L295.3 425.9 L295.8 425.3 L296.3 424.9 L296.8 424.6 L297.3 424.5 L297.8 424.5 L298.3 424.6 L298.8 424.8 L299.3 425.0 L299.8 425.2 L300.3 425.4 L300.8 425.7 L301.3 425.9 L301.8 426.2 L302.3 426.5 L302.8 426.8 L303.3 427.0 L303.8 427.3 L304.3 427.6 L304.8 427.9 L305.3 428.2 L305.8 428.5 L306.3 428.7 L306.8 429.0 L307.3 429.3 L307.8 429.6 L308.3 429.9 L308.8 430.2 L309.3 430.5 L309.8 430.8 L310.3 431.1 L310.8 431.4 L311.3 431.7 L311.8 432.0 L312.3 432.3 L312.8 432.6 L313.3 432.9 L313.8 433.1 L314.3 433.4 L314.8 433.7 L315.3 433.9 L315.8 434.1 L316.3 434.4 L316.8 434.6 L317.3 434.8 L317.8 435.1 L318.3 435.3 L318.8 435.5 L319.3 435.7 L319.8 435.9 L320.3 436.1 L320.8 436.3 L321.3 436.5 L321.8 436.7 L322.3 436.9 L322.8 437.1 L323.3 437.3 L323.8 437.4 L324.3 437.6 L324.8 437.8 L325.3 438.0 L325.8 438.1 L326.3 438.3 L326.8 438.5 L327.3 438.6 L327.8 438.8 L328.3 439.0 L328.8 439.1 L329.3 439.3 L329.8 439.4 L330.3 439.6 L330.8 439.7 L331.3 439.9 L331.8 440.1 L332.3 440.2 L332.8 440.3 L333.3 440.5 L333.8 440.6 L334.3 440.8 L334.8 440.9 L335.3 441.0 L335.8 441.2 L336.3 441.3 L336.8 441.4 L337.3 441.5 L337.8 441.6 L338.3 441.8 L338.8 441.9 L339.3 442.0 L339.8 442.1 L340.3 442.2 L340.8 442.3 L341.3 442.4 L341.8 442.5 L342.3 442.6 L342.8 442.8 L343.3 442.9 L343.8 443.0 L344.3 443.1 L344.8 443.2 L345.3 443.3 L345.8 443.4 L346.3 443.5 L346.8 443.6 L347.3 443.7 L347.8 443.8 L348.3 443.9 L348.8 444.0 L349.3 444.1 L349.8 444.2 L350.3 444.3 L350.8 444.4 L351.3 444.5 L351.8 444.6 L352.3 444.7 L352.8 444.8 L353.3 444.9 L353.8 445.0 L354.3 445.1 L354.8 445.2 L355.3 445.3 L355.8 445.4 L356.3 445.5 L356.8 445.6 L357.3 445.7 L357.8 445.8 L358.3 445.9 L358.8 446.0 L359.3 446.1 L359.8 446.2 L360.3 446.3 L360.8 446.4 L361.3 446.5 L361.8 446.6 L362.3 446.7 L362.8 446.8 L363.3 446.9 L363.8 447.0 L364.3 447.1 L364.8 447.2 L365.3 447.3 L365.8 447.4 L366.3 447.6 L366.8 447.7 L367.3 447.8 L367.8 447.9 L368.3 448.0 L368.8 448.1 L369.3 448.2 L369.8 448.3 L370.3 448.5 L370.8 448.6 L371.3 448.7 L371.8 448.8 L372.3 448.9 L372.8 449.0 L373.3 449.2 L373.8 449.3 L374.3 449.4 L374.3 487.3 L373.8 487.2 L373.3 487.0 L372.8 486.9 L372.3 486.7 L371.8 486.6 L371.3 486.4 L370.8 486.2 L370.3 486.1 L369.8 485.9 L369.3 485.7 L368.8 485.5 L368.3 485.3 L367.8 485.2 L367.3 485.0 L366.8 484.8 L366.3 484.6 L365.8 484.4 L365.3 484.2 L364.8 484.0 L364.3 483.8 L363.8 483.6 L363.3 483.4 L362.8 483.2 L362.3 483.0 L361.8 482.8 L361.3 482.5 L360.8 482.3 L360.3 482.1 L359.8 481.9 L359.3 481.7 L358.8 481.4 L358.3 481.2 L357.8 481.0 L357.3 480.7 L356.8 480.5 L356.3 480.2 L355.8 480.0 L355.3 479.7 L354.8 479.5 L354.3 479.2 L353.8 479.0 L353.3 478.7 L352.8 478.4 L352.3 478.2 L351.8 477.9 L351.3 477.6 L350.8 477.4 L350.3 477.1 L349.8 476.8 L349.3 476.5 L348.8 476.3 L348.3 476.0 L347.8 475.7 L347.3 475.5 L346.8 475.2 L346.3 474.9 L345.8 474.6 L345.3 474.3 L344.8 474.0 L344.3 473.7 L343.8 473.4 L343.3 473.1 L342.8 472.8 L342.3 472.5 L341.8 472.2 L341.3 471.9 L340.8 471.7 L340.3 471.4 L339.8 471.1 L339.3 470.8 L338.8 470.5 L338.3 470.2 L337.8 469.9 L337.3 469.6 L336.8 469.3 L336.3 469.1 L335.8 468.8 L335.3 468.5 L334.8 468.3 L334.3 468.0 L333.8 467.7 L333.3 467.5 L332.8 467.3 L332.3 467.0 L331.8 466.8 L331.3 466.5 L330.8 466.3 L330.3 466.0 L329.8 465.8 L329.3 465.6 L328.8 465.3 L328.3 465.1 L327.8 464.9 L327.3 464.6 L326.8 464.4 L326.3 464.1 L325.8 463.9 L325.3 463.7 L324.8 463.4 L324.3 463.1 L323.8 462.9 L323.3 462.6 L322.8 462.4 L322.3 462.1 L321.8 461.8 L321.3 461.5 L320.8 461.2 L320.3 460.9 L319.8 460.6 L319.3 460.3 L318.8 460.0 L318.3 459.7 L317.8 459.4 L317.3 459.0 L316.8 458.7 L316.3 458.3 L315.8 458.0 L315.3 457.6 L314.8 457.3 L314.3 456.9 L313.8 456.5 L313.3 456.1 L312.8 455.7 L312.3 455.3 L311.8 454.8 L311.3 454.4 L310.8 454.0 L310.3 453.5 L309.8 452.9 L309.3 452.4 L308.8 451.8 L308.3 451.2 L307.8 450.7 L307.3 450.1 L306.8 449.4 L306.3 448.8 L305.8 448.2 L305.3 447.6 L304.8 447.0 L304.3 446.5 L303.8 445.9 L303.3 445.4 L302.8 444.9 L302.3 444.3 L301.8 443.8 L301.3 443.2 L300.8 442.7 L300.3 442.2 L299.8 441.8 L299.3 441.4 L298.8 441.0 L298.3 440.7 L297.8 440.5 L297.3 440.5 L296.8 440.8 L296.3 441.4 L295.8 442.1 L295.3 443.0 L294.8 444.0 L294.3 445.1 L293.8 446.1 L293.3 447.5 L292.8 449.2 L292.3 451.0 L291.8 453.0 L291.3 455.0 L290.8 456.8 L290.3 458.5 L289.8 459.9 L289.3 461.0 L288.8 461.6 L288.3 462.3 L287.8 462.9 L287.3 463.4 L286.8 463.9 L286.3 464.3 L285.8 464.6 L285.3 464.8 L284.8 464.9 L284.3 464.9 L283.8 464.8 L283.3 464.7 L282.8 464.6 L282.3 464.5 L281.8 464.4 L281.3 464.2 L280.8 464.1 L280.3 463.9 L279.8 463.7 L279.3 463.6 L278.8 463.4 L278.3 463.1 L277.8 462.9 L277.3 462.6 L276.8 462.4 L276.3 462.1 L275.8 461.8 L275.3 461.5 L274.8 461.2 L274.3 460.8 L273.8 460.4 L273.3 460.0 L272.8 459.5 L272.3 459.0 L271.8 458.5 L271.3 458.0 L270.8 457.5 L270.3 457.0 L269.8 456.5 L269.3 456.0 L268.8 455.6 L268.3 455.2 L267.8 454.9 L267.3 454.5 L266.8 454.2 L266.3 453.9 L265.8 453.7 L265.3 453.4 L264.8 453.1 L264.3 452.8 L263.8 452.6 L263.3 452.3 L262.8 452.1 L262.3 451.8 L261.8 451.6 L261.3 451.3 L260.8 451.1 L260.3 450.8 L259.8 450.6 L259.3 450.3 L258.8 450.1 L258.3 449.8 L257.8 449.5 L257.3 449.2 L256.8 448.9 L256.3 448.6 L255.8 448.3 L255.3 448.0 L254.8 447.7 L254.3 447.4 L253.8 447.1 L253.3 446.8 L252.8 446.5 L252.3 446.2 L251.8 445.9 L251.3 445.6 L250.8 445.3 L250.3 445.0 L249.8 444.7 L249.3 444.4 L248.8 444.1 L248.3 443.8 L247.8 443.5 L247.3 443.2 L246.8 442.9 L246.3 442.6 L245.8 442.3 L245.3 442.0 L244.8 441.7 L244.3 441.4 L243.8 441.1 L243.3 440.8 L242.8 440.4 L242.3 440.1 L241.8 439.8 L241.3 439.5 L240.8 439.2 L240.3 438.9 L239.8 438.7 L239.3 438.5 L238.8 438.3 L238.3 438.1 L237.8 438.0 L237.3 437.8 L236.8 437.7 L236.3 437.7 L235.8 437.6 L235.3 437.6 L234.8 437.7 L234.3 437.8 L233.8 437.9 L233.3 438.1 L232.8 438.3 L232.3 438.6 L231.8 438.8 L231.3 439.1 L230.8 439.5 L230.3 440.0 L229.8 440.5 L229.3 441.0 L228.8 441.5 L228.3 442.0 L227.8 442.6 L227.3 443.2 L226.8 443.9 L226.3 444.5 L225.8 445.2 L225.3 445.9 L224.8 446.7 L224.3 447.6 L223.8 448.5 L223.3 449.4 L222.8 450.3 L222.3 451.3 L221.8 452.3 L221.3 453.4 L220.8 454.5 L220.3 455.8 L219.8 457.2 L219.3 458.8 L218.8 460.4 L218.3 462.1 L217.8 463.8 L217.3 465.5 L216.8 467.1 L216.3 468.6 L215.8 470.0 L215.3 471.5 L214.8 472.9 L214.3 474.4 L213.8 475.8 L213.3 477.2 L212.8 478.6 L212.3 479.9 L211.8 481.3 L211.3 482.5 L210.8 483.8 L210.3 485.0 L209.8 486.1 L209.3 487.2 L208.8 488.2 L208.3 489.2 L207.8 490.1 L207.3 491.1 L206.8 492.0 L206.3 492.9 L205.8 493.8 L205.3 494.7 L204.8 495.5 L204.3 496.4 L203.8 497.2 L203.3 498.0 L202.8 498.8 L202.3 499.5 L201.8 500.2 L201.3 500.9 L200.8 501.5 L200.3 502.2 L199.8 502.7 L199.3 503.3 L198.8 503.8 L198.3 504.3 L197.8 504.8 L197.3 505.3 L196.8 505.9 L196.3 506.4 L195.8 506.9 L195.3 507.4 L194.8 507.8 L194.3 508.3 L193.8 508.8 L193.3 509.3 L192.8 509.7 L192.3 510.1 L191.8 510.5 L191.3 510.9 L190.8 511.3 L190.3 511.7 L189.8 512.0 L189.3 512.3 L188.8 512.6 L188.3 512.9 L187.8 513.1 L187.3 513.3 L186.8 513.5Z" fill="#f26b1d" fill-opacity="0.2" stroke="none"/>
<path d="M186.8 512.5 L187.3 512.4 L187.8 512.3 L188.3 512.1 L188.8 512.0 L189.3 511.8 L189.8 511.6 L190.3 511.4 L190.8 511.1 L191.3 510.9 L191.8 510.6 L192.3 510.4 L192.8 510.1 L193.3 509.8 L193.8 509.4 L194.3 509.1 L194.8 508.8 L195.3 508.4 L195.8 508.1 L196.3 507.7 L196.8 507.4 L197.3 507.0 L197.8 506.6 L198.3 506.2 L198.8 505.9 L199.3 505.5 L199.8 505.1 L200.3 504.7 L200.8 504.2 L201.3 503.8 L201.8 503.3 L202.3 502.8 L202.8 502.2 L203.3 501.6 L203.8 501.0 L204.3 500.4 L204.8 499.8 L205.3 499.1 L205.8 498.5 L206.3 497.8 L206.8 497.1 L207.3 496.4 L207.8 495.6 L208.3 494.9 L208.8 494.2 L209.3 493.4 L209.8 492.7 L210.3 491.9 L210.8 491.1 L211.3 490.3 L211.8 489.4 L212.3 488.5 L212.8 487.6 L213.3 486.7 L213.8 485.8 L214.3 484.8 L214.8 483.9 L215.3 483.0 L215.8 482.0 L216.3 481.1 L216.8 480.2 L217.3 479.3 L217.8 478.4 L218.3 477.5 L218.8 476.7 L219.3 475.8 L219.8 475.0 L220.3 474.1 L220.8 473.2 L221.3 472.3 L221.8 471.3 L222.3 470.4 L222.8 469.5 L223.3 468.7 L223.8 467.9 L224.3 467.1 L224.8 466.5 L225.3 465.9 L225.8 465.5 L226.3 465.2 L226.8 465.0 L227.3 465.0 L227.8 465.2 L228.3 465.2 L228.8 465.1 L229.3 464.9 L229.8 464.8 L230.3 464.6 L230.8 464.5 L231.3 464.4 L231.8 464.3 L232.3 464.3 L232.8 464.3 L233.3 464.4 L233.8 464.4 L234.3 464.5 L234.8 464.6 L235.3 464.7 L235.8 464.9 L236.3 465.0 L236.8 465.1 L237.3 465.2 L237.8 465.4 L238.3 465.5 L238.8 465.7 L239.3 465.9 L239.8 466.1 L240.3 466.3 L240.8 466.5 L241.3 466.7 L241.8 466.9 L242.3 467.1 L242.8 467.3 L243.3 467.6 L243.8 467.8 L244.3 468.1 L244.8 468.4 L245.3 468.6 L245.8 468.9 L246.3 469.2 L246.8 469.5 L247.3 469.8 L247.8 470.1 L248.3 470.4 L248.8 470.6 L249.3 470.9 L249.8 471.1 L250.3 471.3 L250.8 471.5 L251.3 471.7 L251.8 471.9 L252.3 472.1 L252.8 472.3 L253.3 472.5 L253.8 472.7 L254.3 472.8 L254.8 473.0 L255.3 473.2 L255.8 473.4 L256.3 473.5 L256.8 473.7 L257.3 473.9 L257.8 474.1 L258.3 474.3 L258.8 474.5 L259.3 474.8 L259.8 475.0 L260.3 475.2 L260.8 475.5 L261.3 475.7 L261.8 475.9 L262.3 476.1 L262.8 476.3 L263.3 476.5 L263.8 476.8 L264.3 477.0 L264.8 477.2 L265.3 477.4 L265.8 477.6 L266.3 477.8 L266.8 478.0 L267.3 478.2 L267.8 478.4 L268.3 478.6 L268.8 478.9 L269.3 479.1 L269.8 479.3 L270.3 479.6 L270.8 479.8 L271.3 480.1 L271.8 480.3 L272.3 480.6 L272.8 480.8 L273.3 481.0 L273.8 481.2 L274.3 481.4 L274.8 481.6 L275.3 481.8 L275.8 482.0 L276.3 482.2 L276.8 482.4 L277.3 482.5 L277.8 482.7 L278.3 482.8 L278.8 482.9 L279.3 483.1 L279.8 483.2 L280.3 483.2 L280.8 483.2 L281.3 483.2 L281.8 483.0 L282.3 482.9 L282.8 482.6 L283.3 482.4 L283.8 482.1 L284.3 481.8 L284.8 481.3 L285.3 480.8 L285.8 480.1 L286.3 479.4 L286.8 478.7 L287.3 478.0 L287.8 477.3 L288.3 476.6 L288.8 475.9 L289.3 475.2 L289.8 474.4 L290.3 473.7 L290.8 473.0 L291.3 472.3 L291.8 471.7 L292.3 471.2 L292.8 470.6 L293.3 470.1 L293.8 469.7 L294.3 469.3 L294.8 469.0 L295.3 468.8 L295.8 468.8 L296.3 468.9 L296.8 469.2 L297.3 469.5 L297.8 469.9 L298.3 470.3 L298.8 470.8 L299.3 471.3 L299.8 471.9 L300.3 472.5 L300.8 473.2 L301.3 473.8 L301.8 474.5 L302.3 475.2 L302.8 475.8 L303.3 476.3 L303.8 476.9 L304.3 477.4 L304.8 477.9 L305.3 478.5 L305.8 479.0 L306.3 479.4 L306.8 479.9 L307.3 480.4 L307.8 480.8 L308.3 481.3 L308.8 481.7 L309.3 482.2 L309.8 482.6 L310.3 483.0 L310.8 483.4 L311.3 483.7 L311.8 483.9 L312.3 484.1 L312.8 484.1 L313.3 484.2 L313.8 484.3 L314.3 484.5 L314.8 484.8 L315.3 485.0 L315.8 485.2 L316.3 485.5 L316.8 485.7 L317.3 486.0 L317.8 486.3 L318.3 486.5 L318.8 486.8 L319.3 487.0 L319.8 487.2 L320.3 487.4 L320.8 487.6 L321.3 487.8 L321.8 488.0 L322.3 488.1 L322.8 488.2 L323.3 488.3 L323.8 488.3 L324.3 488.4 L324.8 488.4 L325.3 488.5 L325.8 488.5 L326.3 488.4 L326.8 488.4 L327.3 488.4 L327.8 488.3 L328.3 488.2 L328.8 488.1 L329.3 487.9 L329.8 487.8 L330.3 487.6 L330.8 487.3 L331.3 487.1 L331.8 486.8 L332.3 486.6 L332.8 486.3 L333.3 486.0 L333.8 485.7 L334.3 485.3 L334.8 485.0 L335.3 484.7 L335.8 484.3 L336.3 484.0 L336.8 483.6 L337.3 483.3 L337.8 482.9 L338.3 482.5 L338.8 482.1 L339.3 481.7 L339.8 481.2 L340.3 480.8 L340.8 480.3 L341.3 479.9 L341.8 479.4 L342.3 479.0 L342.8 478.5 L343.3 478.0 L343.8 477.5 L344.3 477.1 L344.8 476.6 L345.3 476.1 L345.8 475.6 L346.3 475.2 L346.8 474.7 L347.3 474.2 L347.8 473.8 L348.3 473.3 L348.8 472.8 L349.3 472.4 L349.8 471.9 L350.3 471.5 L350.8 471.0 L351.3 470.6 L351.8 470.1 L352.3 469.6 L352.8 469.2 L353.3 468.7 L353.8 468.2 L354.3 467.8 L354.8 467.3 L355.3 466.8 L355.8 466.4 L356.3 465.9 L356.8 465.4 L357.3 465.0 L357.8 464.5 L358.3 464.0 L358.8 463.6 L359.3 463.1 L359.8 462.6 L360.3 462.2 L360.8 461.7 L361.3 461.3 L361.8 460.8 L362.3 460.3 L362.8 459.9 L363.3 459.4 L363.8 459.0 L364.3 458.5 L364.8 458.0 L365.3 457.6 L365.8 457.1 L366.3 456.7 L366.8 456.2 L367.3 455.7 L367.8 455.3 L368.3 454.8 L368.8 454.4 L369.3 453.9 L369.8 453.4 L370.3 453.0 L370.8 452.5 L371.3 452.1 L371.8 451.6 L372.3 451.1 L372.8 450.7 L373.3 450.2 L373.8 449.8 L374.3 449.3 L374.3 503.7 L373.8 503.8 L373.3 503.9 L372.8 504.1 L372.3 504.2 L371.8 504.3 L371.3 504.4 L370.8 504.6 L370.3 504.7 L369.8 504.8 L369.3 504.9 L368.8 505.0 L368.3 505.1 L367.8 505.2 L367.3 505.3 L366.8 505.4 L366.3 505.5 L365.8 505.6 L365.3 505.7 L364.8 505.7 L364.3 505.8 L363.8 505.9 L363.3 505.9 L362.8 506.0 L362.3 506.0 L361.8 506.0 L361.3 506.1 L360.8 506.1 L360.3 506.1 L359.8 506.1 L359.3 506.1 L358.8 506.1 L358.3 506.1 L357.8 506.1 L357.3 506.1 L356.8 506.0 L356.3 506.0 L355.8 505.9 L355.3 505.9 L354.8 505.9 L354.3 505.8 L353.8 505.7 L353.3 505.7 L352.8 505.6 L352.3 505.5 L351.8 505.4 L351.3 505.3 L350.8 505.2 L350.3 505.1 L349.8 505.0 L349.3 504.9 L348.8 504.8 L348.3 504.7 L347.8 504.6 L347.3 504.4 L346.8 504.3 L346.3 504.1 L345.8 503.9 L345.3 503.7 L344.8 503.5 L344.3 503.3 L343.8 503.1 L343.3 502.9 L342.8 502.7 L342.3 502.5 L341.8 502.2 L341.3 502.0 L340.8 501.8 L340.3 501.5 L339.8 501.3 L339.3 501.0 L338.8 500.8 L338.3 500.6 L337.8 500.4 L337.3 500.1 L336.8 499.9 L336.3 499.7 L335.8 499.5 L335.3 499.3 L334.8 499.1 L334.3 498.9 L333.8 498.7 L333.3 498.5 L332.8 498.2 L332.3 498.0 L331.8 497.8 L331.3 497.6 L330.8 497.4 L330.3 497.2 L329.8 497.1 L329.3 496.9 L328.8 496.8 L328.3 496.6 L327.8 496.5 L327.3 496.4 L326.8 496.3 L326.3 496.2 L325.8 496.1 L325.3 496.0 L324.8 496.0 L324.3 495.9 L323.8 495.8 L323.3 495.8 L322.8 495.7 L322.3 495.7 L321.8 495.7 L321.3 495.6 L320.8 495.6 L320.3 495.6 L319.8 495.6 L319.3 495.5 L318.8 495.5 L318.3 495.5 L317.8 495.5 L317.3 495.5 L316.8 495.5 L316.3 495.6 L315.8 495.7 L315.3 495.8 L314.8 496.0 L314.3 496.1 L313.8 496.2 L313.3 496.4 L312.8 496.4 L312.3 496.5 L311.8 496.5 L311.3 496.4 L310.8 496.2 L310.3 495.9 L309.8 495.5 L309.3 495.1 L308.8 494.7 L308.3 494.2 L307.8 493.7 L307.3 493.3 L306.8 492.8 L306.3 492.4 L305.8 491.9 L305.3 491.4 L304.8 490.9 L304.3 490.4 L303.8 489.8 L303.3 489.3 L302.8 488.7 L302.3 488.1 L301.8 487.5 L301.3 486.9 L300.8 486.2 L300.3 485.4 L299.8 484.7 L299.3 483.9 L298.8 483.1 L298.3 482.4 L297.8 481.7 L297.3 481.0 L296.8 480.2 L296.3 479.6 L295.8 479.1 L295.3 479.0 L294.8 479.1 L294.3 479.6 L293.8 480.2 L293.3 480.9 L292.8 481.7 L292.3 482.5 L291.8 483.3 L291.3 484.2 L290.8 485.2 L290.3 486.2 L289.8 487.2 L289.3 488.2 L288.8 489.2 L288.3 490.0 L287.8 490.8 L287.3 491.5 L286.8 492.2 L286.3 492.9 L285.8 493.5 L285.3 494.1 L284.8 494.5 L284.3 494.9 L283.8 495.1 L283.3 495.3 L282.8 495.4 L282.3 495.6 L281.8 495.7 L281.3 495.8 L280.8 495.8 L280.3 495.8 L279.8 495.8 L279.3 495.7 L278.8 495.6 L278.3 495.4 L277.8 495.3 L277.3 495.2 L276.8 495.0 L276.3 494.8 L275.8 494.7 L275.3 494.5 L274.8 494.3 L274.3 494.1 L273.8 493.9 L273.3 493.7 L272.8 493.5 L272.3 493.3 L271.8 493.0 L271.3 492.8 L270.8 492.5 L270.3 492.2 L269.8 492.0 L269.3 491.7 L268.8 491.4 L268.3 491.2 L267.8 490.9 L267.3 490.6 L266.8 490.3 L266.3 490.1 L265.8 489.8 L265.3 489.5 L264.8 489.2 L264.3 488.9 L263.8 488.6 L263.3 488.3 L262.8 488.0 L262.3 487.7 L261.8 487.4 L261.3 487.1 L260.8 486.8 L260.3 486.5 L259.8 486.2 L259.3 485.8 L258.8 485.5 L258.3 485.2 L257.8 484.9 L257.3 484.5 L256.8 484.2 L256.3 483.8 L255.8 483.5 L255.3 483.1 L254.8 482.7 L254.3 482.4 L253.8 482.0 L253.3 481.6 L252.8 481.2 L252.3 480.8 L251.8 480.4 L251.3 480.0 L250.8 479.6 L250.3 479.2 L249.8 478.8 L249.3 478.4 L248.8 477.9 L248.3 477.5 L247.8 477.0 L247.3 476.5 L246.8 476.0 L246.3 475.5 L245.8 475.0 L245.3 474.5 L244.8 474.0 L244.3 473.6 L243.8 473.1 L243.3 472.7 L242.8 472.4 L242.3 472.0 L241.8 471.7 L241.3 471.4 L240.8 471.2 L240.3 470.9 L239.8 470.7 L239.3 470.5 L238.8 470.2 L238.3 470.0 L237.8 469.9 L237.3 469.7 L236.8 469.5 L236.3 469.4 L235.8 469.2 L235.3 469.1 L234.8 469.0 L234.3 468.9 L233.8 468.8 L233.3 468.7 L232.8 468.6 L232.3 468.5 L231.8 468.5 L231.3 468.5 L230.8 468.6 L230.3 468.7 L229.8 468.9 L229.3 469.1 L228.8 469.3 L228.3 469.5 L227.8 469.9 L227.3 470.5 L226.8 471.1 L226.3 471.7 L225.8 472.4 L225.3 473.0 L224.8 473.6 L224.3 474.3 L223.8 475.0 L223.3 475.6 L222.8 476.3 L222.3 477.0 L221.8 477.7 L221.3 478.4 L220.8 479.2 L220.3 479.9 L219.8 480.6 L219.3 481.4 L218.8 482.1 L218.3 482.9 L217.8 483.7 L217.3 484.5 L216.8 485.3 L216.3 486.1 L215.8 487.0 L215.3 487.8 L214.8 488.7 L214.3 489.6 L213.8 490.4 L213.3 491.3 L212.8 492.1 L212.3 492.9 L211.8 493.7 L211.3 494.5 L210.8 495.3 L210.3 496.0 L209.8 496.7 L209.3 497.4 L208.8 498.1 L208.3 498.8 L207.8 499.4 L207.3 500.1 L206.8 500.8 L206.3 501.4 L205.8 502.1 L205.3 502.7 L204.8 503.3 L204.3 503.9 L203.8 504.5 L203.3 505.0 L202.8 505.6 L202.3 506.1 L201.8 506.5 L201.3 507.0 L200.8 507.4 L200.3 507.7 L199.8 508.1 L199.3 508.4 L198.8 508.7 L198.3 509.0 L197.8 509.3 L197.3 509.6 L196.8 509.9 L196.3 510.2 L195.8 510.5 L195.3 510.7 L194.8 511.0 L194.3 511.2 L193.8 511.5 L193.3 511.7 L192.8 512.0 L192.3 512.2 L191.8 512.4 L191.3 512.5 L190.8 512.7 L190.3 512.9 L189.8 513.0 L189.3 513.1 L188.8 513.3 L188.3 513.3 L187.8 513.4 L187.3 513.5 L186.8 513.5Z" fill="#4a8c1e" fill-opacity="0.2" stroke="none"/>
</g>
<path d="M41.2 513.05 H373.8" stroke="#484848" stroke-width="1.0"/>
<path d="M41.2 281.6 V513.4" stroke="#626262" stroke-width="1.5"/>
<path d="M60.4 513.3 V517.9" stroke="#2a2a2a" stroke-width="0.75"/>
<path d="M99.2 513.3 V517.9" stroke="#2a2a2a" stroke-width="0.75"/>
<path d="M137.9 513.3 V517.9" stroke="#2a2a2a" stroke-width="0.75"/>
<path d="M176.7 513.3 V517.9" stroke="#2a2a2a" stroke-width="0.75"/>
<path d="M215.4 513.3 V517.9" stroke="#2a2a2a" stroke-width="0.75"/>
<path d="M254.2 513.3 V517.9" stroke="#2a2a2a" stroke-width="0.75"/>
<path d="M293.0 513.3 V517.9" stroke="#2a2a2a" stroke-width="0.75"/>
<path d="M331.7 513.3 V517.9" stroke="#2a2a2a" stroke-width="0.75"/>
<path d="M370.5 513.3 V517.9" stroke="#2a2a2a" stroke-width="0.75"/>
<defs>
<path id="L4" d="M186.8 513.0 L187.3 512.7 L187.8 512.3 L188.3 511.9 L188.8 511.4 L189.3 510.9 L189.8 510.3 L190.3 509.7 L190.8 509.0 L191.3 508.3 L191.8 507.6 L192.3 506.8 L192.8 506.1 L193.3 505.2 L193.8 504.4 L194.3 503.6 L194.8 502.7 L195.3 501.9 L195.8 501.0 L196.3 500.0 L196.8 499.0 L197.3 497.9 L197.8 496.7 L198.3 495.5 L198.8 494.3 L199.3 493.0 L199.8 491.6 L200.3 490.3 L200.8 488.9 L201.3 487.5 L201.8 486.1 L202.3 484.7 L202.8 483.2 L203.3 481.8 L203.8 480.4 L204.3 478.9 L204.8 477.3 L205.3 475.7 L205.8 474.1 L206.3 472.4 L206.8 470.7 L207.3 469.0 L207.8 467.2 L208.3 465.3 L208.8 463.5 L209.3 461.5 L209.8 459.3 L210.3 457.0 L210.8 454.5 L211.3 451.8 L211.8 449.0 L212.3 446.0 L212.8 443.1 L213.3 440.1 L213.8 437.2 L214.3 434.5 L214.8 431.9 L215.3 429.3 L215.8 426.8 L216.3 424.3 L216.8 421.9 L217.3 419.5 L217.8 417.2 L218.3 414.8 L218.8 412.5 L219.3 410.2 L219.8 407.9 L220.3 405.7 L220.8 403.6 L221.3 401.6 L221.8 399.7 L222.3 397.8 L222.8 396.0 L223.3 394.3 L223.8 392.9 L224.3 391.6 L224.8 390.4 L225.3 389.3 L225.8 388.2 L226.3 387.3 L226.8 386.5 L227.3 385.7 L227.8 384.9 L228.3 384.3 L228.8 383.7 L229.3 383.1 L229.8 382.5 L230.3 382.0 L230.8 381.6 L231.3 381.3 L231.8 381.1 L232.3 380.9 L232.8 380.7 L233.3 380.6 L233.8 380.5 L234.3 380.5 L234.8 380.6 L235.3 380.7 L235.8 380.8 L236.3 380.9 L236.8 381.1 L237.3 381.3 L237.8 381.6 L238.3 381.9 L238.8 382.2 L239.3 382.5 L239.8 382.9 L240.3 383.2 L240.8 383.5 L241.3 383.8 L241.8 384.2 L242.3 384.5 L242.8 384.9 L243.3 385.3 L243.8 385.7 L244.3 386.1 L244.8 386.6 L245.3 387.0 L245.8 387.5 L246.3 387.9 L246.8 388.4 L247.3 388.8 L247.8 389.3 L248.3 389.8 L248.8 390.2 L249.3 390.7 L249.8 391.1 L250.3 391.6 L250.8 392.0 L251.3 392.5 L251.8 392.9 L252.3 393.4 L252.8 393.8 L253.3 394.3 L253.8 394.8 L254.3 395.2 L254.8 395.7 L255.3 396.1 L255.8 396.6 L256.3 397.0 L256.8 397.5 L257.3 398.0 L257.8 398.4 L258.3 398.9 L258.8 399.3 L259.3 399.7 L259.8 400.2 L260.3 400.6 L260.8 401.0 L261.3 401.5 L261.8 401.9 L262.3 402.3 L262.8 402.7 L263.3 403.1 L263.8 403.5 L264.3 404.0 L264.8 404.4 L265.3 404.8 L265.8 405.2 L266.3 405.6 L266.8 406.0 L267.3 406.4 L267.8 406.8 L268.3 407.2 L268.8 407.6 L269.3 407.9 L269.8 408.3 L270.3 408.6 L270.8 409.0 L271.3 409.3 L271.8 409.6 L272.3 409.9 L272.8 410.2 L273.3 410.5 L273.8 410.8 L274.3 411.1 L274.8 411.3 L275.3 411.6 L275.8 411.8 L276.3 412.0 L276.8 412.3 L277.3 412.5 L277.8 412.7 L278.3 412.8 L278.8 413.0 L279.3 413.1 L279.8 413.2 L280.3 413.3 L280.8 413.4 L281.3 413.4 L281.8 413.3 L282.3 413.1 L282.8 412.9 L283.3 412.6 L283.8 412.3 L284.3 412.0 L284.8 411.7 L285.3 411.2 L285.8 410.6 L286.3 409.9 L286.8 409.1 L287.3 408.0 L287.8 406.5 L288.3 404.7 L288.8 402.8 L289.3 400.7 L289.8 398.7 L290.3 396.7 L290.8 394.7 L291.3 392.7 L291.8 390.6 L292.3 388.7 L292.8 387.0 L293.3 385.5 L293.8 384.2 L294.3 383.2 L294.8 382.5 L295.3 382.0 L295.8 381.9 L296.3 382.3 L296.8 382.9 L297.3 383.7 L297.8 384.8 L298.3 386.1 L298.8 387.2 L299.3 388.3 L299.8 389.4 L300.3 390.6 L300.8 391.7 L301.3 392.8 L301.8 393.9 L302.3 394.9 L302.8 395.9 L303.3 396.9 L303.8 397.8 L304.3 398.6 L304.8 399.4 L305.3 400.2 L305.8 401.0 L306.3 401.7 L306.8 402.4 L307.3 403.1 L307.8 403.8 L308.3 404.5 L308.8 405.2 L309.3 405.9 L309.8 406.6 L310.3 407.3 L310.8 408.0 L311.3 408.6 L311.8 409.3 L312.3 409.9 L312.8 410.6 L313.3 411.2 L313.8 411.9 L314.3 412.6 L314.8 413.2 L315.3 413.9 L315.8 414.5 L316.3 415.1 L316.8 415.7 L317.3 416.3 L317.8 416.8 L318.3 417.3 L318.8 417.8 L319.3 418.2 L319.8 418.7 L320.3 419.1 L320.8 419.6 L321.3 420.0 L321.8 420.4 L322.3 420.8 L322.8 421.2 L323.3 421.6 L323.8 422.0 L324.3 422.4 L324.8 422.8 L325.3 423.2 L325.8 423.6 L326.3 423.9 L326.8 424.3 L327.3 424.7 L327.8 425.1 L328.3 425.5 L328.8 425.9 L329.3 426.2 L329.8 426.6 L330.3 427.0 L330.8 427.4 L331.3 427.8 L331.8 428.1 L332.3 428.5 L332.8 428.9 L333.3 429.2 L333.8 429.6 L334.3 430.0 L334.8 430.3 L335.3 430.7 L335.8 431.1 L336.3 431.4 L336.8 431.8 L337.3 432.1 L337.8 432.5 L338.3 432.8 L338.8 433.2 L339.3 433.6 L339.8 433.9 L340.3 434.3 L340.8 434.6 L341.3 435.0 L341.8 435.3 L342.3 435.6 L342.8 436.0 L343.3 436.3 L343.8 436.7 L344.3 437.0 L344.8 437.4 L345.3 437.7 L345.8 438.1 L346.3 438.4 L346.8 438.8 L347.3 439.1 L347.8 439.5 L348.3 439.8 L348.8 440.1 L349.3 440.5 L349.8 440.8 L350.3 441.2 L350.8 441.5 L351.3 441.9 L351.8 442.2 L352.3 442.6 L352.8 442.9 L353.3 443.3 L353.8 443.6 L354.3 443.9 L354.8 444.3 L355.3 444.6 L355.8 445.0 L356.3 445.3 L356.8 445.7 L357.3 446.0 L357.8 446.3 L358.3 446.7 L358.8 447.0 L359.3 447.4 L359.8 447.7 L360.3 448.1 L360.8 448.4 L361.3 448.7 L361.8 449.1 L362.3 449.4 L362.8 449.8 L363.3 450.1 L363.8 450.5 L364.3 450.8 L364.8 451.1 L365.3 451.5 L365.8 451.8 L366.3 452.2 L366.8 452.5 L367.3 452.8 L367.8 453.2 L368.3 453.5 L368.8 453.9 L369.3 454.2 L369.8 454.5 L370.3 454.9 L370.8 455.2 L371.3 455.6 L371.8 455.9 L372.3 456.2 L372.8 456.6 L373.3 456.9 L373.8 457.3 L374.3 457.6"/>
<path id="L5" d="M186.8 513.0 L187.3 512.8 L187.8 512.6 L188.3 512.4 L188.8 512.1 L189.3 511.8 L189.8 511.4 L190.3 511.1 L190.8 510.7 L191.3 510.3 L191.8 509.9 L192.3 509.4 L192.8 509.0 L193.3 508.5 L193.8 508.0 L194.3 507.5 L194.8 507.0 L195.3 506.5 L195.8 505.9 L196.3 505.4 L196.8 504.9 L197.3 504.3 L197.8 503.8 L198.3 503.3 L198.8 502.7 L199.3 502.1 L199.8 501.4 L200.3 500.7 L200.8 500.0 L201.3 499.3 L201.8 498.5 L202.3 497.7 L202.8 496.8 L203.3 496.0 L203.8 495.1 L204.3 494.2 L204.8 493.3 L205.3 492.3 L205.8 491.4 L206.3 490.4 L206.8 489.4 L207.3 488.4 L207.8 487.4 L208.3 486.3 L208.8 485.1 L209.3 483.9 L209.8 482.7 L210.3 481.4 L210.8 480.1 L211.3 478.7 L211.8 477.3 L212.3 475.9 L212.8 474.4 L213.3 473.0 L213.8 471.5 L214.3 470.1 L214.8 468.6 L215.3 467.1 L215.8 465.4 L216.3 463.7 L216.8 461.9 L217.3 460.2 L217.8 458.5 L218.3 456.9 L218.8 455.5 L219.3 454.3 L219.8 453.2 L220.3 452.1 L220.8 451.2 L221.3 450.2 L221.8 449.2 L222.3 448.2 L222.8 447.1 L223.3 446.1 L223.8 445.2 L224.3 444.3 L224.8 443.4 L225.3 442.6 L225.8 441.8 L226.3 441.0 L226.8 440.3 L227.3 439.6 L227.8 439.0 L228.3 438.5 L228.8 437.9 L229.3 437.4 L229.8 436.9 L230.3 436.5 L230.8 436.1 L231.3 435.8 L231.8 435.5 L232.3 435.3 L232.8 435.0 L233.3 434.9 L233.8 434.7 L234.3 434.6 L234.8 434.5 L235.3 434.4 L235.8 434.4 L236.3 434.4 L236.8 434.5 L237.3 434.6 L237.8 434.7 L238.3 434.9 L238.8 435.1 L239.3 435.3 L239.8 435.5 L240.3 435.7 L240.8 436.0 L241.3 436.2 L241.8 436.5 L242.3 436.7 L242.8 437.0 L243.3 437.3 L243.8 437.5 L244.3 437.8 L244.8 438.1 L245.3 438.3 L245.8 438.6 L246.3 438.9 L246.8 439.1 L247.3 439.4 L247.8 439.6 L248.3 439.9 L248.8 440.2 L249.3 440.4 L249.8 440.7 L250.3 441.0 L250.8 441.2 L251.3 441.5 L251.8 441.8 L252.3 442.0 L252.8 442.3 L253.3 442.6 L253.8 442.8 L254.3 443.1 L254.8 443.3 L255.3 443.6 L255.8 443.8 L256.3 444.1 L256.8 444.3 L257.3 444.5 L257.8 444.7 L258.3 444.9 L258.8 445.0 L259.3 445.2 L259.8 445.3 L260.3 445.4 L260.8 445.5 L261.3 445.7 L261.8 445.8 L262.3 446.0 L262.8 446.2 L263.3 446.5 L263.8 446.7 L264.3 447.0 L264.8 447.2 L265.3 447.5 L265.8 447.8 L266.3 448.0 L266.8 448.3 L267.3 448.5 L267.8 448.8 L268.3 449.0 L268.8 449.3 L269.3 449.5 L269.8 449.8 L270.3 450.0 L270.8 450.3 L271.3 450.5 L271.8 450.8 L272.3 451.0 L272.8 451.3 L273.3 451.5 L273.8 451.8 L274.3 452.1 L274.8 452.3 L275.3 452.6 L275.8 452.8 L276.3 453.1 L276.8 453.3 L277.3 453.6 L277.8 453.8 L278.3 454.1 L278.8 454.3 L279.3 454.5 L279.8 454.8 L280.3 455.0 L280.8 455.2 L281.3 455.4 L281.8 455.6 L282.3 455.8 L282.8 455.9 L283.3 456.1 L283.8 456.1 L284.3 456.1 L284.8 455.9 L285.3 455.6 L285.8 455.1 L286.3 454.6 L286.8 454.0 L287.3 453.4 L287.8 452.7 L288.3 451.9 L288.8 451.1 L289.3 450.3 L289.8 449.3 L290.3 448.1 L290.8 446.6 L291.3 445.0 L291.8 443.4 L292.3 441.7 L292.8 440.2 L293.3 438.7 L293.8 437.4 L294.3 436.4 L294.8 435.4 L295.3 434.6 L295.8 433.9 L296.3 433.4 L296.8 433.0 L297.3 432.7 L297.8 432.6 L298.3 432.7 L298.8 432.9 L299.3 433.2 L299.8 433.5 L300.3 433.9 L300.8 434.3 L301.3 434.7 L301.8 435.1 L302.3 435.6 L302.8 436.0 L303.3 436.4 L303.8 436.8 L304.3 437.2 L304.8 437.6 L305.3 438.1 L305.8 438.5 L306.3 438.9 L306.8 439.3 L307.3 439.7 L307.8 440.1 L308.3 440.5 L308.8 440.9 L309.3 441.3 L309.8 441.7 L310.3 442.0 L310.8 442.4 L311.3 442.8 L311.8 443.1 L312.3 443.5 L312.8 443.8 L313.3 444.2 L313.8 444.5 L314.3 444.9 L314.8 445.2 L315.3 445.5 L315.8 445.8 L316.3 446.1 L316.8 446.4 L317.3 446.7 L317.8 446.9 L318.3 447.2 L318.8 447.5 L319.3 447.7 L319.8 448.0 L320.3 448.3 L320.8 448.5 L321.3 448.7 L321.8 449.0 L322.3 449.2 L322.8 449.5 L323.3 449.7 L323.8 449.9 L324.3 450.1 L324.8 450.4 L325.3 450.6 L325.8 450.8 L326.3 451.0 L326.8 451.2 L327.3 451.3 L327.8 451.5 L328.3 451.7 L328.8 451.9 L329.3 452.1 L329.8 452.2 L330.3 452.4 L330.8 452.6 L331.3 452.7 L331.8 452.9 L332.3 453.0 L332.8 453.2 L333.3 453.3 L333.8 453.5 L334.3 453.6 L334.8 453.8 L335.3 454.0 L335.8 454.1 L336.3 454.3 L336.8 454.5 L337.3 454.7 L337.8 454.8 L338.3 455.0 L338.8 455.2 L339.3 455.4 L339.8 455.6 L340.3 455.8 L340.8 455.9 L341.3 456.1 L341.8 456.3 L342.3 456.5 L342.8 456.7 L343.3 456.9 L343.8 457.1 L344.3 457.3 L344.8 457.5 L345.3 457.7 L345.8 457.9 L346.3 458.0 L346.8 458.2 L347.3 458.4 L347.8 458.6 L348.3 458.8 L348.8 459.0 L349.3 459.2 L349.8 459.4 L350.3 459.6 L350.8 459.7 L351.3 459.9 L351.8 460.1 L352.3 460.3 L352.8 460.5 L353.3 460.7 L353.8 460.9 L354.3 461.1 L354.8 461.3 L355.3 461.4 L355.8 461.6 L356.3 461.8 L356.8 462.0 L357.3 462.2 L357.8 462.4 L358.3 462.6 L358.8 462.8 L359.3 463.0 L359.8 463.1 L360.3 463.3 L360.8 463.5 L361.3 463.7 L361.8 463.9 L362.3 464.1 L362.8 464.3 L363.3 464.4 L363.8 464.6 L364.3 464.8 L364.8 465.0 L365.3 465.2 L365.8 465.4 L366.3 465.6 L366.8 465.7 L367.3 465.9 L367.8 466.1 L368.3 466.3 L368.8 466.5 L369.3 466.7 L369.8 466.8 L370.3 467.0 L370.8 467.2 L371.3 467.4 L371.8 467.6 L372.3 467.8 L372.8 468.0 L373.3 468.1 L373.8 468.3 L374.3 468.5"/>
<path id="L6" d="M186.8 513.0 L187.3 512.9 L187.8 512.8 L188.3 512.7 L188.8 512.6 L189.3 512.5 L189.8 512.3 L190.3 512.1 L190.8 511.9 L191.3 511.7 L191.8 511.5 L192.3 511.3 L192.8 511.0 L193.3 510.8 L193.8 510.5 L194.3 510.2 L194.8 509.9 L195.3 509.6 L195.8 509.3 L196.3 509.0 L196.8 508.6 L197.3 508.3 L197.8 508.0 L198.3 507.6 L198.8 507.3 L199.3 506.9 L199.8 506.6 L200.3 506.2 L200.8 505.8 L201.3 505.4 L201.8 504.9 L202.3 504.4 L202.8 503.9 L203.3 503.3 L203.8 502.7 L204.3 502.1 L204.8 501.5 L205.3 500.9 L205.8 500.2 L206.3 499.5 L206.8 498.9 L207.3 498.2 L207.8 497.5 L208.3 496.8 L208.8 496.0 L209.3 495.3 L209.8 494.6 L210.3 493.9 L210.8 493.1 L211.3 492.3 L211.8 491.5 L212.3 490.6 L212.8 489.7 L213.3 488.9 L213.8 488.0 L214.3 487.1 L214.8 486.2 L215.3 485.3 L215.8 484.4 L216.3 483.5 L216.8 482.6 L217.3 481.7 L217.8 480.9 L218.3 480.0 L218.8 479.2 L219.3 478.4 L219.8 477.7 L220.3 476.9 L220.8 476.1 L221.3 475.2 L221.8 474.4 L222.3 473.6 L222.8 472.9 L223.3 472.1 L223.8 471.4 L224.3 470.7 L224.8 470.0 L225.3 469.5 L225.8 468.9 L226.3 468.5 L226.8 468.1 L227.3 467.8 L227.8 467.5 L228.3 467.4 L228.8 467.2 L229.3 467.0 L229.8 466.9 L230.3 466.7 L230.8 466.6 L231.3 466.5 L231.8 466.4 L232.3 466.4 L232.8 466.4 L233.3 466.5 L233.8 466.6 L234.3 466.7 L234.8 466.8 L235.3 466.9 L235.8 467.0 L236.3 467.2 L236.8 467.3 L237.3 467.5 L237.8 467.6 L238.3 467.8 L238.8 468.0 L239.3 468.2 L239.8 468.4 L240.3 468.6 L240.8 468.8 L241.3 469.0 L241.8 469.3 L242.3 469.5 L242.8 469.7 L243.3 470.0 L243.8 470.3 L244.3 470.5 L244.8 470.8 L245.3 471.1 L245.8 471.4 L246.3 471.7 L246.8 472.0 L247.3 472.3 L247.8 472.6 L248.3 472.9 L248.8 473.3 L249.3 473.6 L249.8 473.9 L250.3 474.2 L250.8 474.5 L251.3 474.9 L251.8 475.2 L252.3 475.5 L252.8 475.8 L253.3 476.1 L253.8 476.4 L254.3 476.7 L254.8 477.0 L255.3 477.3 L255.8 477.6 L256.3 478.0 L256.8 478.3 L257.3 478.6 L257.8 478.9 L258.3 479.2 L258.8 479.5 L259.3 479.8 L259.8 480.1 L260.3 480.4 L260.8 480.7 L261.3 481.0 L261.8 481.3 L262.3 481.6 L262.8 481.8 L263.3 482.1 L263.8 482.4 L264.3 482.6 L264.8 482.9 L265.3 483.1 L265.8 483.4 L266.3 483.6 L266.8 483.9 L267.3 484.1 L267.8 484.4 L268.3 484.7 L268.8 484.9 L269.3 485.2 L269.8 485.4 L270.3 485.7 L270.8 486.0 L271.3 486.2 L271.8 486.5 L272.3 486.7 L272.8 487.0 L273.3 487.2 L273.8 487.4 L274.3 487.6 L274.8 487.8 L275.3 488.0 L275.8 488.2 L276.3 488.4 L276.8 488.6 L277.3 488.8 L277.8 488.9 L278.3 489.1 L278.8 489.2 L279.3 489.3 L279.8 489.4 L280.3 489.5 L280.8 489.6 L281.3 489.6 L281.8 489.6 L282.3 489.4 L282.8 489.2 L283.3 488.9 L283.8 488.5 L284.3 488.1 L284.8 487.8 L285.3 487.3 L285.8 486.7 L286.3 486.0 L286.8 485.3 L287.3 484.6 L287.8 483.8 L288.3 483.0 L288.8 482.2 L289.3 481.3 L289.8 480.4 L290.3 479.5 L290.8 478.5 L291.3 477.6 L291.8 476.8 L292.3 476.1 L292.8 475.4 L293.3 474.8 L293.8 474.3 L294.3 474.0 L294.8 473.8 L295.3 473.6 L295.8 473.6 L296.3 473.8 L296.8 474.1 L297.3 474.4 L297.8 475.0 L298.3 475.6 L298.8 476.2 L299.3 476.9 L299.8 477.5 L300.3 478.2 L300.8 478.9 L301.3 479.6 L301.8 480.2 L302.3 480.8 L302.8 481.3 L303.3 481.9 L303.8 482.4 L304.3 483.0 L304.8 483.5 L305.3 484.0 L305.8 484.5 L306.3 484.9 L306.8 485.3 L307.3 485.7 L307.8 486.1 L308.3 486.5 L308.8 486.8 L309.3 487.2 L309.8 487.5 L310.3 487.8 L310.8 488.0 L311.3 488.3 L311.8 488.6 L312.3 488.8 L312.8 489.1 L313.3 489.3 L313.8 489.5 L314.3 489.7 L314.8 489.8 L315.3 490.0 L315.8 490.2 L316.3 490.3 L316.8 490.5 L317.3 490.6 L317.8 490.8 L318.3 490.9 L318.8 491.0 L319.3 491.1 L319.8 491.2 L320.3 491.3 L320.8 491.4 L321.3 491.5 L321.8 491.6 L322.3 491.7 L322.8 491.8 L323.3 491.8 L323.8 491.9 L324.3 491.9 L324.8 492.0 L325.3 492.0 L325.8 492.1 L326.3 492.1 L326.8 492.1 L327.3 492.2 L327.8 492.2 L328.3 492.2 L328.8 492.2 L329.3 492.2 L329.8 492.2 L330.3 492.2 L330.8 492.1 L331.3 492.1 L331.8 492.1 L332.3 492.0 L332.8 492.0 L333.3 491.9 L333.8 491.9 L334.3 491.8 L334.8 491.8 L335.3 491.7 L335.8 491.6 L336.3 491.6 L336.8 491.5 L337.3 491.4 L337.8 491.3 L338.3 491.2 L338.8 491.1 L339.3 491.0 L339.8 490.9 L340.3 490.8 L340.8 490.6 L341.3 490.5 L341.8 490.4 L342.3 490.2 L342.8 490.1 L343.3 489.9 L343.8 489.8 L344.3 489.6 L344.8 489.4 L345.3 489.3 L345.8 489.1 L346.3 489.0 L346.8 488.8 L347.3 488.6 L347.8 488.5 L348.3 488.3 L348.8 488.1 L349.3 488.0 L349.8 487.8 L350.3 487.6 L350.8 487.4 L351.3 487.2 L351.8 487.0 L352.3 486.8 L352.8 486.6 L353.3 486.4 L353.8 486.2 L354.3 486.0 L354.8 485.8 L355.3 485.5 L355.8 485.3 L356.3 485.1 L356.8 484.9 L357.3 484.7 L357.8 484.4 L358.3 484.2 L358.8 484.0 L359.3 483.7 L359.8 483.5 L360.3 483.3 L360.8 483.1 L361.3 482.8 L361.8 482.6 L362.3 482.4 L362.8 482.1 L363.3 481.9 L363.8 481.7 L364.3 481.4 L364.8 481.2 L365.3 481.0 L365.8 480.7 L366.3 480.5 L366.8 480.2 L367.3 480.0 L367.8 479.7 L368.3 479.5 L368.8 479.2 L369.3 479.0 L369.8 478.7 L370.3 478.5 L370.8 478.2 L371.3 478.0 L371.8 477.7 L372.3 477.4 L372.8 477.2 L373.3 476.9 L373.8 476.7 L374.3 476.4"/>
</defs>
<use href="#L4" fill="none" stroke="#2b7b82" stroke-opacity="0.15" stroke-width="3.2" stroke-linejoin="round"/>
<use href="#L5" fill="none" stroke="#f26b1d" stroke-opacity="0.15" stroke-width="3.2" stroke-linejoin="round"/>
<use href="#L6" fill="none" stroke="#4a8c1e" stroke-opacity="0.15" stroke-width="3.2" stroke-linejoin="round"/>
<use href="#L4" fill="none" stroke="#2b7b82" stroke-width="1.05" stroke-linejoin="round"/>
<use href="#L5" fill="none" stroke="#f26b1d" stroke-width="1.05" stroke-linejoin="round"/>
<use href="#L6" fill="none" stroke="#4a8c1e" stroke-width="1.05" stroke-linejoin="round"/>
<path d="M41.6 513.0 H45.8" stroke="#2a2a2a" stroke-width="0.75"/>
<text x="37.40" y="517.50" font-size="12.5" class="tk" text-anchor="end">0</text>
<path d="M41.6 466.8 H45.8" stroke="#2a2a2a" stroke-width="0.75"/>
<text x="37.40" y="471.30" font-size="12.5" class="tk" text-anchor="end">0.2</text>
<path d="M41.6 420.6 H45.8" stroke="#2a2a2a" stroke-width="0.75"/>
<text x="37.40" y="425.10" font-size="12.5" class="tk" text-anchor="end">0.4</text>
<path d="M41.6 374.4 H45.8" stroke="#2a2a2a" stroke-width="0.75"/>
<text x="37.40" y="378.90" font-size="12.5" class="tk" text-anchor="end">0.6</text>
<path d="M41.6 328.2 H45.8" stroke="#2a2a2a" stroke-width="0.75"/>
<text x="37.40" y="332.70" font-size="12.5" class="tk" text-anchor="end">0.8</text>
<path d="M41.6 282.0 H45.8" stroke="#2a2a2a" stroke-width="0.75"/>
<text x="37.40" y="286.50" font-size="12.5" class="tk" text-anchor="end">1</text>
<circle cx="51.7" cy="513.0" r="2.4" fill="#fff" stroke="#111" stroke-width="0.9"/>
<circle cx="182.5" cy="513.0" r="2.4" fill="#fff" stroke="#111" stroke-width="0.9"/>
<circle cx="186.7" cy="513.0" r="2.4" fill="#fff" stroke="#111" stroke-width="0.9"/>
<circle cx="313.6" cy="513.0" r="2.4" fill="#fff" stroke="#b4b4b4" stroke-width="0.9"/>
<text x="60.30" y="531.40" font-size="12.5" class="tk" text-anchor="middle">0.30</text>
<text x="99.06" y="531.40" font-size="12.5" class="tk" text-anchor="middle">0.32</text>
<text x="137.82" y="531.40" font-size="12.5" class="tk" text-anchor="middle">0.34</text>
<text x="176.58" y="531.40" font-size="12.5" class="tk" text-anchor="middle">0.36</text>
<text x="215.34" y="531.40" font-size="12.5" class="tk" text-anchor="middle">0.38</text>
<text x="254.10" y="531.40" font-size="12.5" class="tk" text-anchor="middle">0.40</text>
<text x="292.86" y="531.40" font-size="12.5" class="tk" text-anchor="middle">0.42</text>
<text x="331.62" y="531.40" font-size="12.5" class="tk" text-anchor="middle">0.44</text>
<text x="370.38" y="531.40" font-size="12.5" class="tk" text-anchor="middle">0.46</text>
<path d="M41.2 638.3 V540.6 H373.8" fill="none" stroke="#626262" stroke-width="1.5" stroke-linejoin="round"/>
<path d="M60.4 541.3 V545.9" stroke="#2a2a2a" stroke-width="0.75"/>
<path d="M99.2 541.3 V545.9" stroke="#2a2a2a" stroke-width="0.75"/>
<path d="M137.9 541.3 V545.9" stroke="#2a2a2a" stroke-width="0.75"/>
<path d="M176.7 541.3 V545.9" stroke="#2a2a2a" stroke-width="0.75"/>
<path d="M215.4 541.3 V545.9" stroke="#2a2a2a" stroke-width="0.75"/>
<path d="M254.2 541.3 V545.9" stroke="#2a2a2a" stroke-width="0.75"/>
<path d="M293.0 541.3 V545.9" stroke="#2a2a2a" stroke-width="0.75"/>
<path d="M331.7 541.3 V545.9" stroke="#2a2a2a" stroke-width="0.75"/>
<path d="M370.5 541.3 V545.9" stroke="#2a2a2a" stroke-width="0.75"/>
<path d="M41.6 563.6 H45.8" stroke="#2a2a2a" stroke-width="0.75"/>
<text x="37.40" y="568.10" font-size="12.5" class="tk" text-anchor="end">-0.005</text>
<path d="M41.6 586.5 H45.8" stroke="#2a2a2a" stroke-width="0.75"/>
<text x="37.40" y="591.00" font-size="12.5" class="tk" text-anchor="end">-0.010</text>
<path d="M41.6 609.4 H45.8" stroke="#2a2a2a" stroke-width="0.75"/>
<text x="37.40" y="613.90" font-size="12.5" class="tk" text-anchor="end">-0.015</text>
<path d="M41.6 632.3 H45.8" stroke="#2a2a2a" stroke-width="0.75"/>
<text x="37.40" y="636.80" font-size="12.5" class="tk" text-anchor="end">-0.020</text>
<circle cx="51.7" cy="540.7" r="2.4" fill="#fff" stroke="#111" stroke-width="0.9"/>
<circle cx="182.5" cy="540.7" r="2.4" fill="#fff" stroke="#111" stroke-width="0.9"/>
<circle cx="186.7" cy="540.7" r="2.4" fill="#fff" stroke="#111" stroke-width="0.9"/>
<circle cx="313.6" cy="540.7" r="2.4" fill="#fff" stroke="#b4b4b4" stroke-width="0.9"/>
<g stroke="#111" stroke-width="0.8" fill="none"><path d="M222.5 620.7 V634.6 M221.3 620.7 h2.4 M221.3 634.6 h2.4 M219.6 627.7 H225.4 M219.6 626.7 v2 M225.4 626.7 v2"/><circle cx="222.5" cy="627.7" r="1.4" fill="#fff" stroke-width="0.85"/></g>
<g stroke="#111" stroke-width="0.8" fill="none"><path d="M293.2 570.2 V583.8000000000001 M292.0 570.2 h2.4 M292.0 583.8000000000001 h2.4 M290.9 577.1 H295.5 M290.9 576.1 v2 M295.5 576.1 v2"/><circle cx="293.2" cy="577.1" r="1.4" fill="#fff" stroke-width="0.85"/></g>
<text x="229.90" y="641.30" font-size="12.8" class="sans" fill="#111" textLength="6.40" lengthAdjust="spacingAndGlyphs">a</text>
<text x="300.30" y="591.20" font-size="12.8" class="sans" fill="#111" textLength="6.40" lengthAdjust="spacingAndGlyphs">b</text>
<g fill="#bd2638">
<path d="M126.60 153.40 Q121.60 160.00 126.60 166.60" fill="none" stroke="#bd2638" stroke-width="1.0"/>
<text x="127.10" y="163.40" font-size="11.2" stroke="#bd2638" stroke-width="0.25" class="it" textLength="5.70" lengthAdjust="spacingAndGlyphs">η</text>
<text x="133.10" y="160.10" font-size="9.4" stroke="#bd2638" stroke-width="0.2" class="b" textLength="4.20" lengthAdjust="spacingAndGlyphs">8</text>
<text x="138.50" y="163.40" font-size="11.2" stroke="#bd2638" stroke-width="0.25" class="it" textLength="5.70" lengthAdjust="spacingAndGlyphs">η</text>
<text x="144.50" y="160.10" font-size="9.4" stroke="#bd2638" stroke-width="0.2" class="b" textLength="4.20" lengthAdjust="spacingAndGlyphs">8</text>
<path d="M151.30 153.80 V166.70" stroke="#bd2638" stroke-width="0.85"/>
<text x="153.40" y="163.40" font-size="11.2" stroke="#bd2638" stroke-width="0.25" class="it" textLength="5.70" lengthAdjust="spacingAndGlyphs">η</text>
<text x="159.40" y="160.10" font-size="9.4" stroke="#bd2638" stroke-width="0.2" class="b" textLength="4.20" lengthAdjust="spacingAndGlyphs">8</text>
<text x="164.80" y="163.40" font-size="11.2" stroke="#bd2638" stroke-width="0.25" class="it" textLength="5.70" lengthAdjust="spacingAndGlyphs">η</text>
<text x="170.80" y="160.10" font-size="9.4" stroke="#bd2638" stroke-width="0.2" class="b" textLength="4.20" lengthAdjust="spacingAndGlyphs">8</text>
<path d="M175.70 153.40 Q180.70 160.00 175.70 166.60" fill="none" stroke="#bd2638" stroke-width="1.0"/>
</g>
<g fill="#2b7b82">
<path d="M126.60 171.20 Q121.60 177.80 126.60 184.40" fill="none" stroke="#2b7b82" stroke-width="1.0"/>
<text x="127.10" y="181.20" font-size="11.2" stroke="#2b7b82" stroke-width="0.25" class="it" textLength="5.70" lengthAdjust="spacingAndGlyphs">η</text>
<text x="133.10" y="177.90" font-size="9.4" stroke="#2b7b82" stroke-width="0.2" class="b" textLength="4.20" lengthAdjust="spacingAndGlyphs">8</text>
<text x="138.50" y="181.20" font-size="11.2" stroke="#2b7b82" stroke-width="0.25" class="it" textLength="5.70" lengthAdjust="spacingAndGlyphs">η</text>
<text x="144.50" y="177.90" font-size="9.4" stroke="#2b7b82" stroke-width="0.2" class="b" textLength="4.20" lengthAdjust="spacingAndGlyphs">8</text>
<path d="M151.30 171.60 V184.50" stroke="#2b7b82" stroke-width="0.85"/>
<text x="153.40" y="181.20" font-size="11.2" stroke="#2b7b82" stroke-width="0.25" class="it" textLength="5.70" lengthAdjust="spacingAndGlyphs">η</text>
<text x="159.40" y="177.90" font-size="9.4" stroke="#2b7b82" stroke-width="0.2" class="b" textLength="4.20" lengthAdjust="spacingAndGlyphs">8</text>
<text x="164.80" y="181.20" font-size="10.4" stroke="#2b7b82" stroke-width="0.25" class="it" textLength="6.90" lengthAdjust="spacingAndGlyphs">ω</text>
<text x="172.10" y="177.90" font-size="9.4" stroke="#2b7b82" stroke-width="0.2" class="b" textLength="4.20" lengthAdjust="spacingAndGlyphs">8</text>
<path d="M177.00 171.20 Q182.00 177.80 177.00 184.40" fill="none" stroke="#2b7b82" stroke-width="1.0"/>
</g>
<g fill="#4a8c1e">
<path d="M126.60 188.90 Q121.60 195.50 126.60 202.10" fill="none" stroke="#4a8c1e" stroke-width="1.0"/>
<text x="127.10" y="198.90" font-size="11.2" stroke="#4a8c1e" stroke-width="0.25" class="it" textLength="5.70" lengthAdjust="spacingAndGlyphs">η</text>
<text x="133.10" y="195.60" font-size="9.4" stroke="#4a8c1e" stroke-width="0.2" class="b" textLength="4.20" lengthAdjust="spacingAndGlyphs">8</text>
<text x="138.50" y="198.90" font-size="11.2" stroke="#4a8c1e" stroke-width="0.25" class="it" textLength="5.70" lengthAdjust="spacingAndGlyphs">η</text>
<text x="144.50" y="195.60" font-size="9.4" stroke="#4a8c1e" stroke-width="0.2" class="b" textLength="4.20" lengthAdjust="spacingAndGlyphs">8</text>
<path d="M151.30 189.30 V202.20" stroke="#4a8c1e" stroke-width="0.85"/>
<text x="153.40" y="198.90" font-size="11.2" stroke="#4a8c1e" stroke-width="0.25" class="it" textLength="5.70" lengthAdjust="spacingAndGlyphs">η</text>
<text x="159.40" y="195.60" font-size="9.4" stroke="#4a8c1e" stroke-width="0.2" class="b" textLength="4.20" lengthAdjust="spacingAndGlyphs">8</text>
<text x="164.80" y="198.90" font-size="10.4" stroke="#4a8c1e" stroke-width="0.25" class="it" textLength="6.90" lengthAdjust="spacingAndGlyphs">ω</text>
<text x="172.10" y="195.60" font-size="9.4" stroke="#4a8c1e" stroke-width="0.2" class="b" textLength="4.20" lengthAdjust="spacingAndGlyphs">1</text>
<path d="M177.00 188.90 Q182.00 195.50 177.00 202.10" fill="none" stroke="#4a8c1e" stroke-width="1.0"/>
</g>
<g fill="#2b7b82">
<path d="M126.70 380.40 Q121.70 387.00 126.70 393.60" fill="none" stroke="#2b7b82" stroke-width="1.0"/>
<text x="127.20" y="390.40" font-size="11.2" stroke="#2b7b82" stroke-width="0.25" class="it" textLength="5.70" lengthAdjust="spacingAndGlyphs">η</text>
<text x="133.20" y="387.10" font-size="9.4" stroke="#2b7b82" stroke-width="0.2" class="b" textLength="4.20" lengthAdjust="spacingAndGlyphs">8</text>
<text x="138.60" y="390.40" font-size="10.4" stroke="#2b7b82" stroke-width="0.25" class="it" textLength="6.90" lengthAdjust="spacingAndGlyphs">ω</text>
<text x="145.90" y="387.10" font-size="9.4" stroke="#2b7b82" stroke-width="0.2" class="b" textLength="4.20" lengthAdjust="spacingAndGlyphs">8</text>
<path d="M152.70 380.80 V393.70" stroke="#2b7b82" stroke-width="0.85"/>
<text x="154.80" y="390.40" font-size="11.2" stroke="#2b7b82" stroke-width="0.25" class="it" textLength="5.70" lengthAdjust="spacingAndGlyphs">η</text>
<text x="160.80" y="387.10" font-size="9.4" stroke="#2b7b82" stroke-width="0.2" class="b" textLength="4.20" lengthAdjust="spacingAndGlyphs">8</text>
<text x="166.20" y="390.40" font-size="10.4" stroke="#2b7b82" stroke-width="0.25" class="it" textLength="6.90" lengthAdjust="spacingAndGlyphs">ω</text>
<text x="173.50" y="387.10" font-size="9.4" stroke="#2b7b82" stroke-width="0.2" class="b" textLength="4.20" lengthAdjust="spacingAndGlyphs">8</text>
<path d="M178.40 380.40 Q183.40 387.00 178.40 393.60" fill="none" stroke="#2b7b82" stroke-width="1.0"/>
</g>
<g fill="#f26b1d">
<path d="M126.70 395.70 Q121.70 402.30 126.70 408.90" fill="none" stroke="#f26b1d" stroke-width="1.0"/>
<text x="127.20" y="405.70" font-size="11.2" stroke="#f26b1d" stroke-width="0.25" class="it" textLength="5.70" lengthAdjust="spacingAndGlyphs">η</text>
<text x="133.20" y="402.40" font-size="9.4" stroke="#f26b1d" stroke-width="0.2" class="b" textLength="4.20" lengthAdjust="spacingAndGlyphs">8</text>
<text x="138.60" y="405.70" font-size="10.4" stroke="#f26b1d" stroke-width="0.25" class="it" textLength="6.90" lengthAdjust="spacingAndGlyphs">ω</text>
<text x="145.90" y="402.40" font-size="9.4" stroke="#f26b1d" stroke-width="0.2" class="b" textLength="4.20" lengthAdjust="spacingAndGlyphs">8</text>
<path d="M152.70 396.10 V409.00" stroke="#f26b1d" stroke-width="0.85"/>
<text x="154.80" y="405.70" font-size="11.2" stroke="#f26b1d" stroke-width="0.25" class="it" textLength="5.70" lengthAdjust="spacingAndGlyphs">η</text>
<text x="160.80" y="402.40" font-size="9.4" stroke="#f26b1d" stroke-width="0.2" class="b" textLength="4.20" lengthAdjust="spacingAndGlyphs">8</text>
<text x="166.20" y="405.70" font-size="10.4" stroke="#f26b1d" stroke-width="0.25" class="it" textLength="6.90" lengthAdjust="spacingAndGlyphs">ω</text>
<text x="173.50" y="402.40" font-size="9.4" stroke="#f26b1d" stroke-width="0.2" class="b" textLength="4.20" lengthAdjust="spacingAndGlyphs">1</text>
<path d="M178.40 395.70 Q183.40 402.30 178.40 408.90" fill="none" stroke="#f26b1d" stroke-width="1.0"/>
</g>
<g fill="#4a8c1e">
<path d="M126.70 411.10 Q121.70 417.70 126.70 424.30" fill="none" stroke="#4a8c1e" stroke-width="1.0"/>
<text x="127.20" y="421.10" font-size="11.2" stroke="#4a8c1e" stroke-width="0.25" class="it" textLength="5.70" lengthAdjust="spacingAndGlyphs">η</text>
<text x="133.20" y="417.80" font-size="9.4" stroke="#4a8c1e" stroke-width="0.2" class="b" textLength="4.20" lengthAdjust="spacingAndGlyphs">8</text>
<text x="138.60" y="421.10" font-size="10.4" stroke="#4a8c1e" stroke-width="0.25" class="it" textLength="6.90" lengthAdjust="spacingAndGlyphs">ω</text>
<text x="145.90" y="417.80" font-size="9.4" stroke="#4a8c1e" stroke-width="0.2" class="b" textLength="4.20" lengthAdjust="spacingAndGlyphs">1</text>
<path d="M152.70 411.50 V424.40" stroke="#4a8c1e" stroke-width="0.85"/>
<text x="154.80" y="421.10" font-size="11.2" stroke="#4a8c1e" stroke-width="0.25" class="it" textLength="5.70" lengthAdjust="spacingAndGlyphs">η</text>
<text x="160.80" y="417.80" font-size="9.4" stroke="#4a8c1e" stroke-width="0.2" class="b" textLength="4.20" lengthAdjust="spacingAndGlyphs">8</text>
<text x="166.20" y="421.10" font-size="10.4" stroke="#4a8c1e" stroke-width="0.25" class="it" textLength="6.90" lengthAdjust="spacingAndGlyphs">ω</text>
<text x="173.50" y="417.80" font-size="9.4" stroke="#4a8c1e" stroke-width="0.2" class="b" textLength="4.20" lengthAdjust="spacingAndGlyphs">1</text>
<path d="M178.40 411.10 Q183.40 417.70 178.40 424.30" fill="none" stroke="#4a8c1e" stroke-width="1.0"/>
</g>
<g fill="#000">
<path d="M50.6 13.3 l1.2 -0.8 l3.0 6.0 l5.2 -12.1 H84.5" fill="none" stroke="#000" stroke-width="0.75" stroke-linejoin="miter"/>
<text x="60.90" y="16.00" font-size="13" class="it" textLength="6.60" lengthAdjust="spacingAndGlyphs">ρ</text>
<text x="68.20" y="17.90" font-size="9.2" class="it">i</text>
<text x="71.80" y="16.00" font-size="13" class="it" textLength="6.60" lengthAdjust="spacingAndGlyphs">ρ</text>
<text x="79.60" y="17.90" font-size="9.2" class="it" textLength="3.80" lengthAdjust="spacingAndGlyphs">j</text>
<path d="M88.7 5.9 V19.4 M107.6 5.9 V19.4" stroke="#000" stroke-width="0.75"/>
<text x="91.40" y="16.00" font-size="13" class="it" textLength="4.20" lengthAdjust="spacingAndGlyphs">t</text>
<text x="96.50" y="17.90" font-size="9.2" class="it">i</text>
<text x="99.60" y="17.90" font-size="9.2" class="it" textLength="3.80" lengthAdjust="spacingAndGlyphs">j</text>
</g>
<g fill="#000">
<text x="377.50" y="247.20" font-size="13.4" class="it" textLength="6.90" lengthAdjust="spacingAndGlyphs">a</text>
<text x="384.70" y="249.90" font-size="10.6" class="it" textLength="3.10" lengthAdjust="spacingAndGlyphs">t</text>
<text x="389.40" y="247.20" font-size="13.6" class="it" textLength="9.90" lengthAdjust="spacingAndGlyphs">E</text>
<text x="399.20" y="249.70" font-size="9" stroke="#000" stroke-width="0.25" class="sans" textLength="11.40" lengthAdjust="spacingAndGlyphs">cm</text>
</g>
<g fill="#000">
<text x="350.70" y="557.30" font-size="9.8" stroke="#000" stroke-width="0.15" textLength="9.40" lengthAdjust="spacingAndGlyphs">Re</text>
<path d="M365.50 549.30 Q360.70 555.15 365.50 561.00" fill="none" stroke="#000" stroke-width="0.8"/>
<text x="366.70" y="557.30" font-size="10.2" stroke="#000" stroke-width="0.15" class="it" textLength="5.20" lengthAdjust="spacingAndGlyphs">a</text>
<text x="372.50" y="558.80" font-size="7.6" stroke="#000" stroke-width="0.15" class="it" textLength="2.30" lengthAdjust="spacingAndGlyphs">t</text>
<path d="M376.80 556.30 l0.9 -0.6 l2.2 4.5 l3.6 -10.4 H395.00" fill="none" stroke="#000" stroke-width="0.7"/>
<text x="385.00" y="557.30" font-size="10.2" stroke="#000" stroke-width="0.15" class="it" textLength="4.20" lengthAdjust="spacingAndGlyphs">s</text>
<text x="390.10" y="559.40" font-size="7.4" stroke="#000" stroke-width="0.15" textLength="3.50" lengthAdjust="spacingAndGlyphs">0</text>
<path d="M395.90 549.30 Q400.70 555.15 395.90 561.00" fill="none" stroke="#000" stroke-width="0.8"/>
<text x="11.30" y="651.50" font-size="9.8" stroke="#000" stroke-width="0.15" textLength="4.60" lengthAdjust="spacingAndGlyphs">2</text>
<text x="18.30" y="651.50" font-size="9.8">·</text>
<text x="24.00" y="651.50" font-size="9.8" stroke="#000" stroke-width="0.15" textLength="11.50" lengthAdjust="spacingAndGlyphs">Im</text>
<path d="M38.20 643.50 Q33.40 649.35 38.20 655.20" fill="none" stroke="#000" stroke-width="0.8"/>
<text x="39.40" y="651.50" font-size="10.2" stroke="#000" stroke-width="0.15" class="it" textLength="5.20" lengthAdjust="spacingAndGlyphs">a</text>
<text x="45.20" y="653.00" font-size="7.6" stroke="#000" stroke-width="0.15" class="it" textLength="2.30" lengthAdjust="spacingAndGlyphs">t</text>
<path d="M49.50 650.50 l0.9 -0.6 l2.2 4.5 l3.6 -10.4 H67.70" fill="none" stroke="#000" stroke-width="0.7"/>
<text x="57.70" y="651.50" font-size="10.2" stroke="#000" stroke-width="0.15" class="it" textLength="4.20" lengthAdjust="spacingAndGlyphs">s</text>
<text x="62.80" y="653.60" font-size="7.4" stroke="#000" stroke-width="0.15" textLength="3.50" lengthAdjust="spacingAndGlyphs">0</text>
<path d="M68.60 643.50 Q73.40 649.35 68.60 655.20" fill="none" stroke="#000" stroke-width="0.8"/>
</g>
</svg></body></html>
